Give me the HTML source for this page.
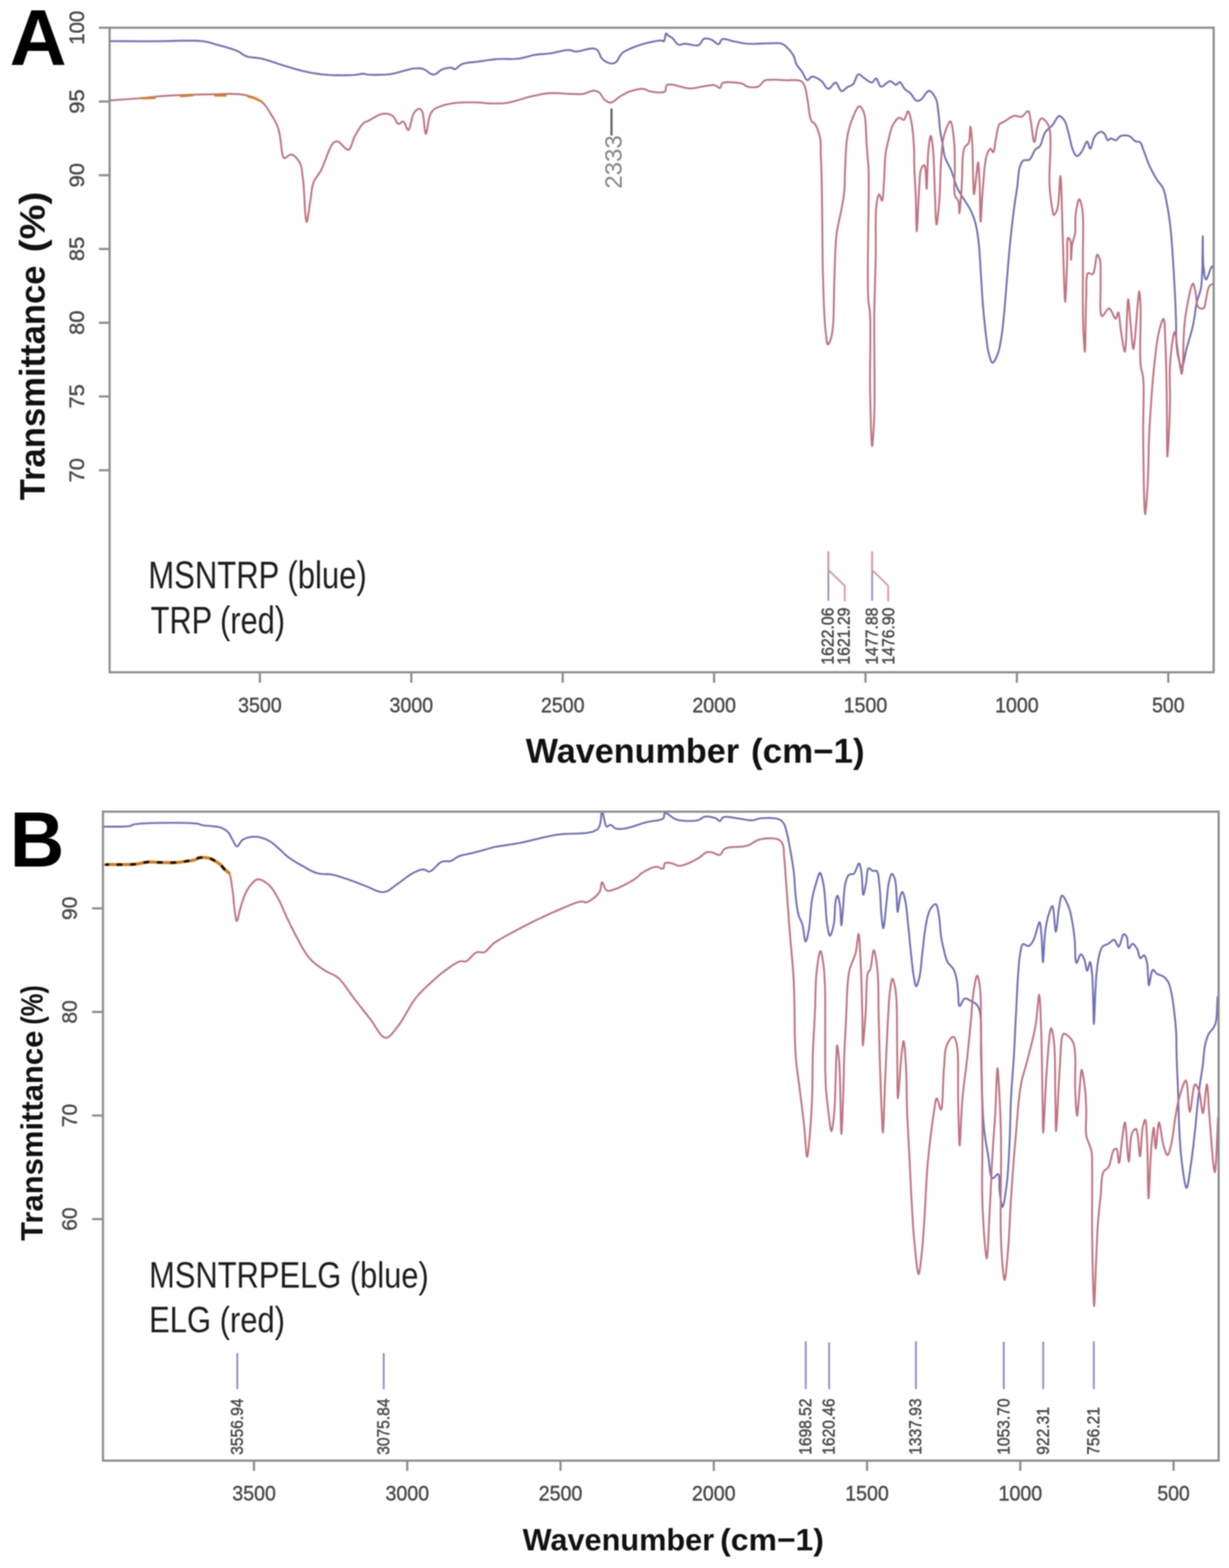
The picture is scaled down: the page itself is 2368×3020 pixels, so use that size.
<!DOCTYPE html>
<html><head><meta charset="utf-8"><title>FTIR spectra</title>
<style>html,body{margin:0;padding:0;background:#fff;overflow:hidden}svg{display:block}#wrap{filter:blur(1px)}</style>
</head><body><div id="wrap">
<svg width="2368" height="3020" viewBox="0 0 2368 3020" font-family="'Liberation Sans', Arial, Helvetica, sans-serif">
<rect width="2368" height="3020" fill="#fff"/>
<text x="18.4" y="124.5" font-size="152" font-weight="bold" fill="#000" text-anchor="start" >A</text>
<polyline points="211.7,79.3 226.4,79.3 241.1,79.4 255.8,79.4 270.5,79.5 285.2,79.5 300.0,79.5 315.5,79.3 331.8,78.9 348.0,78.4 363.6,78.2 377.9,78.4 390.0,79.3 395.9,80.2 401.0,81.2 405.6,82.4 410.1,83.8 414.7,85.2 419.6,86.6 425.9,88.3 432.5,90.1 439.3,92.0 445.9,94.0 452.1,96.1 457.6,98.3 460.9,100.0 463.8,101.8 466.4,103.7 469.0,105.5 471.8,107.1 475.0,108.5 479.3,109.7 483.9,110.4 488.8,110.9 493.9,111.4 499.1,112.0 504.5,113.0 511.7,114.9 519.3,117.2 527.2,119.8 535.2,122.6 543.2,125.2 551.0,127.6 558.4,129.8 565.8,131.9 573.2,134.0 580.6,136.0 587.8,137.8 595.0,139.3 601.4,140.5 607.6,141.5 613.8,142.4 620.0,143.2 626.4,143.8 633.0,144.3 641.2,144.7 650.1,144.9 659.2,145.0 668.0,144.9 676.1,144.7 683.0,144.3 686.4,144.0 689.5,143.5 692.4,142.9 695.0,142.4 697.6,142.1 700.0,142.0 702.4,142.3 704.4,142.8 706.6,143.3 709.3,143.7 714.6,144.0 721.4,144.1 729.1,144.1 736.8,143.9 744.1,143.5 750.3,143.0 753.6,142.6 756.5,142.0 759.3,141.4 761.9,140.8 764.7,140.0 767.8,139.3 772.3,138.1 777.2,136.7 782.4,135.3 787.5,133.9 792.4,132.7 797.0,132.0 800.2,131.7 803.2,131.5 806.1,131.4 808.9,131.6 811.8,131.9 814.7,132.6 818.1,134.1 821.6,136.3 825.1,138.9 828.5,141.3 831.9,143.0 835.2,143.7 838.2,143.1 841.1,141.5 844.0,139.3 846.8,137.0 849.7,134.9 852.7,133.4 855.7,132.4 858.9,131.6 862.1,130.9 865.1,130.5 867.9,130.3 870.3,130.5 872.4,131.5 874.1,132.8 876.0,133.4 878.0,132.7 880.2,131.2 882.6,129.1 885.1,126.9 887.9,124.8 890.8,123.2 895.0,121.9 899.5,121.0 904.4,120.4 909.6,119.9 914.8,119.4 920.0,118.8 926.0,117.9 932.2,117.0 938.6,116.0 945.0,115.2 951.5,114.4 958.0,113.8 964.8,113.5 971.7,113.5 978.7,113.6 985.7,113.7 992.5,113.5 999.0,113.0 1004.6,112.1 1010.1,110.8 1015.5,109.4 1020.8,108.0 1026.0,106.6 1031.3,105.6 1036.2,104.9 1041.1,104.4 1045.9,104.1 1050.7,103.7 1055.6,103.3 1060.6,102.7 1066.5,101.7 1072.6,100.3 1078.9,98.9 1085.0,97.6 1090.7,96.6 1095.7,96.3 1098.9,96.6 1101.7,97.3 1104.4,98.2 1107.1,98.9 1110.3,99.2 1115.2,98.7 1120.9,97.5 1126.9,96.0 1132.8,94.5 1138.2,93.5 1142.5,93.3 1145.2,93.7 1147.4,94.3 1149.4,95.3 1151.3,96.8 1152.9,98.8 1154.2,101.5 1155.5,104.5 1156.7,107.6 1158.2,110.6 1160.0,113.0 1162.2,115.0 1164.7,117.0 1167.5,118.7 1170.2,120.2 1173.0,121.3 1175.5,122.0 1178.2,122.3 1180.9,122.2 1183.5,121.5 1186.0,120.3 1188.2,118.3 1190.1,115.5 1192.0,112.1 1193.9,108.7 1196.0,105.4 1198.4,102.7 1201.0,100.6 1203.7,98.9 1206.5,97.3 1209.6,95.8 1212.7,94.4 1216.0,93.0 1220.2,91.2 1224.7,89.5 1229.4,87.8 1234.2,86.2 1239.1,84.7 1244.0,83.4 1249.5,82.1 1255.6,80.7 1261.7,79.5 1267.5,78.5 1272.3,78.0 1275.7,78.1 1277.6,79.3 1279.0,79.9 1279.9,78.4 1280.7,75.5 1281.5,71.7 1282.1,68.1 1282.8,65.2 1283.6,64.0 1284.7,65.3 1286.2,67.6 1288.0,68.8 1290.2,70.0 1292.6,71.2 1295.0,72.8 1297.0,74.8 1298.9,77.3 1300.9,80.0 1303.0,82.6 1305.1,84.7 1307.3,86.0 1309.6,86.3 1311.9,86.0 1314.3,85.3 1316.8,84.6 1319.6,84.3 1323.6,84.6 1328.2,85.5 1333.1,86.5 1337.9,87.3 1342.3,87.6 1346.0,86.9 1348.2,85.4 1350.0,83.2 1351.5,80.6 1353.0,78.1 1354.6,76.0 1356.5,74.6 1359.1,74.0 1361.9,74.1 1364.8,74.6 1367.7,75.4 1370.5,76.3 1373.0,77.6 1375.5,79.5 1378.0,81.6 1380.4,83.5 1382.6,84.8 1384.6,85.1 1386.5,83.6 1387.9,80.6 1389.4,77.5 1391.6,75.5 1394.6,75.0 1398.2,75.4 1402.3,76.4 1406.6,77.7 1410.9,78.9 1415.1,79.9 1419.3,80.7 1423.5,81.6 1427.8,82.4 1432.1,83.2 1436.7,83.8 1441.5,84.3 1448.3,84.5 1455.9,84.4 1463.7,84.1 1471.5,83.8 1478.9,83.5 1485.4,83.4 1489.4,83.3 1493.3,83.2 1496.9,83.1 1500.3,83.1 1503.5,83.5 1506.5,84.3 1508.9,85.4 1511.1,86.8 1513.1,88.4 1515.1,90.1 1516.9,92.0 1518.8,93.9 1520.8,96.0 1522.7,98.2 1524.5,100.6 1526.3,103.0 1527.9,105.5 1529.3,108.0 1530.4,110.5 1531.2,113.2 1531.9,115.9 1532.7,118.6 1533.5,121.3 1534.6,123.8 1536.1,126.2 1537.7,128.6 1539.6,130.8 1541.4,133.1 1543.3,135.4 1545.1,137.8 1546.9,140.8 1548.6,144.3 1550.4,147.9 1552.1,151.1 1553.9,153.4 1555.7,154.5 1557.7,153.7 1559.8,151.3 1561.9,148.9 1564.4,147.5 1567.0,147.6 1569.9,148.4 1573.0,149.8 1576.2,151.5 1579.2,153.5 1582.0,155.4 1584.6,157.9 1587.0,161.2 1589.2,164.7 1591.4,167.9 1593.7,170.2 1596.0,171.2 1598.3,170.4 1600.7,168.0 1603.1,165.0 1605.5,161.9 1607.8,159.7 1610.0,158.9 1612.1,160.3 1614.0,163.3 1615.8,167.2 1617.6,171.0 1619.5,174.1 1621.5,175.6 1623.7,175.2 1626.0,173.8 1628.3,171.6 1630.7,169.5 1633.0,167.7 1635.7,166.4 1638.4,165.4 1641.0,164.2 1643.5,162.4 1645.5,159.6 1647.2,155.8 1648.8,151.6 1650.4,147.7 1652.1,144.6 1654.0,143.1 1655.9,143.3 1658.0,144.5 1660.1,146.4 1662.3,148.4 1664.6,150.1 1667.1,151.8 1669.7,153.8 1672.5,155.8 1675.2,157.6 1677.7,158.7 1680.0,159.0 1682.3,157.5 1684.2,154.8 1686.0,152.1 1687.9,151.1 1689.5,152.3 1690.9,155.1 1692.4,158.8 1693.9,162.4 1695.6,165.4 1697.6,166.9 1700.1,166.5 1703.0,164.6 1706.1,162.0 1709.3,159.3 1712.3,157.2 1715.1,156.3 1717.6,157.1 1720.0,158.9 1722.3,161.0 1724.4,162.7 1726.5,163.4 1729.0,161.9 1731.3,159.3 1733.6,158.1 1735.2,159.0 1736.7,160.9 1738.3,163.5 1739.8,166.4 1741.5,169.1 1743.2,171.3 1745.2,173.1 1747.3,174.5 1749.5,175.9 1751.7,177.4 1753.8,179.2 1755.9,181.6 1757.9,184.5 1759.9,187.7 1761.9,190.5 1763.9,192.8 1766.0,194.1 1768.2,194.3 1770.4,193.9 1772.6,192.8 1774.9,191.5 1777.3,189.2 1779.8,185.8 1782.3,182.0 1784.9,178.5 1787.4,175.8 1789.8,174.8 1792.1,175.5 1794.6,177.3 1797.0,179.9 1799.2,183.1 1801.3,186.4 1803.0,189.7 1804.6,193.7 1805.7,198.1 1806.4,202.8 1807.0,207.8 1807.6,212.8 1808.2,217.8 1808.9,223.5 1809.5,229.5 1810.0,235.5 1810.5,241.6 1811.0,247.5 1811.7,253.0 1812.4,257.3 1813.1,261.5 1813.8,265.5 1814.6,269.5 1815.4,273.5 1816.1,277.5 1816.8,281.6 1817.3,285.7 1817.9,289.8 1818.5,293.9 1819.4,298.0 1820.5,302.1 1822.1,306.5 1824.1,310.8 1826.2,315.0 1828.5,319.4 1830.7,323.8 1832.8,328.5 1834.9,334.2 1836.9,340.3 1838.9,346.5 1840.9,352.7 1842.9,358.4 1845.1,363.6 1846.8,366.9 1848.5,369.9 1850.2,372.7 1851.9,375.4 1853.7,378.2 1855.6,381.2 1857.9,384.8 1860.3,388.6 1862.8,392.4 1865.3,396.3 1867.6,400.2 1869.7,404.0 1871.4,407.5 1872.9,411.0 1874.3,414.4 1875.6,417.9 1876.9,421.4 1878.0,425.0 1879.0,428.6 1880.0,432.2 1880.8,435.8 1881.6,439.5 1882.3,443.3 1883.0,447.3 1883.8,452.1 1884.4,457.0 1885.0,462.0 1885.6,467.2 1886.2,472.7 1886.7,478.5 1887.4,486.8 1888.0,495.7 1888.6,505.1 1889.1,514.7 1889.7,524.2 1890.3,533.6 1890.9,542.8 1891.5,552.0 1892.0,561.2 1892.6,570.3 1893.3,579.5 1894.0,588.7 1894.8,598.0 1895.7,607.5 1896.6,616.9 1897.5,626.2 1898.5,635.2 1899.5,643.7 1900.3,650.4 1901.1,657.0 1901.9,663.4 1902.7,669.5 1903.8,675.2 1905.0,680.5 1906.0,684.4 1907.2,688.4 1908.4,692.3 1909.6,695.6 1911.0,697.9 1912.4,698.8 1913.8,698.2 1915.4,696.4 1917.1,693.8 1918.7,690.7 1920.2,687.3 1921.6,684.1 1923.2,679.7 1924.6,674.9 1925.8,669.7 1926.9,664.3 1927.9,658.6 1928.9,652.9 1930.0,645.8 1931.0,638.4 1931.9,630.8 1932.8,623.0 1933.6,615.0 1934.4,607.0 1935.3,598.1 1936.0,589.0 1936.8,579.8 1937.5,570.5 1938.3,561.2 1939.0,552.0 1939.8,542.8 1940.5,533.6 1941.3,524.5 1942.0,515.3 1942.8,506.1 1943.6,496.9 1944.4,487.7 1945.3,478.3 1946.2,469.0 1947.1,459.8 1948.0,450.7 1949.0,441.8 1949.9,433.8 1950.8,426.0 1951.7,418.3 1952.7,410.7 1953.6,403.2 1954.6,395.9 1955.5,389.5 1956.4,383.3 1957.4,377.3 1958.3,371.3 1959.2,365.3 1960.1,359.2 1960.8,353.0 1961.4,346.5 1961.9,340.1 1962.6,333.9 1963.4,328.2 1964.6,323.2 1965.5,320.3 1966.4,317.5 1967.5,314.9 1968.6,312.6 1970.0,310.7 1971.6,309.2 1974.2,308.4 1977.3,308.4 1980.5,308.5 1983.4,307.6 1985.7,305.3 1987.7,302.0 1989.5,298.1 1991.3,294.1 1993.2,290.5 1995.1,287.7 1997.2,286.0 1999.3,284.9 2001.3,283.7 2003.3,281.9 2005.2,278.5 2006.9,274.1 2008.4,269.1 2010.0,263.9 2011.8,259.0 2013.9,254.9 2016.0,252.2 2018.3,249.8 2020.7,247.6 2023.2,245.5 2025.6,243.3 2027.9,240.9 2030.2,237.8 2032.3,234.1 2034.5,230.3 2036.6,226.9 2038.7,224.4 2040.8,223.3 2043.0,223.7 2045.2,225.2 2047.4,227.4 2049.5,230.0 2051.3,232.7 2052.9,235.7 2054.2,239.1 2055.3,242.8 2056.3,246.7 2057.3,250.8 2058.4,254.9 2059.9,260.5 2061.3,266.8 2062.8,273.4 2064.3,279.7 2065.9,285.4 2067.7,290.1 2069.0,293.0 2070.3,295.8 2071.7,298.1 2073.2,299.8 2074.8,300.6 2076.5,300.2 2078.4,298.9 2080.4,297.0 2082.3,294.7 2084.1,292.4 2086.0,289.2 2087.9,285.0 2089.8,280.5 2091.5,276.5 2093.2,273.6 2094.7,272.5 2095.8,273.6 2096.8,276.2 2097.7,279.6 2098.6,283.0 2099.5,285.6 2100.5,286.6 2101.9,285.2 2103.2,281.5 2104.6,276.4 2106.1,270.9 2107.9,265.8 2109.9,262.0 2112.0,259.6 2114.4,257.3 2116.9,255.5 2119.4,254.3 2121.6,253.8 2124.1,254.5 2126.5,256.3 2128.6,258.5 2129.9,260.7 2131.1,263.6 2132.1,266.6 2133.2,269.0 2134.5,270.2 2136.3,269.5 2138.2,267.7 2140.3,266.6 2142.5,267.1 2144.9,268.5 2147.4,269.8 2149.7,270.2 2151.6,269.3 2153.3,267.5 2155.1,265.3 2156.9,263.4 2159.1,262.0 2161.5,261.3 2164.3,260.9 2167.2,260.7 2170.1,260.9 2172.9,261.3 2175.5,262.0 2177.9,263.3 2180.1,265.1 2182.2,267.2 2184.3,269.4 2186.3,271.2 2188.3,272.5 2191.2,273.0 2194.0,272.9 2196.5,273.7 2198.0,275.4 2199.3,277.7 2200.3,280.5 2201.4,283.6 2202.4,286.9 2203.6,290.1 2205.4,294.7 2207.2,299.7 2209.1,304.9 2211.1,310.3 2213.1,315.5 2215.3,320.5 2217.5,325.0 2219.8,329.6 2222.1,334.0 2224.5,338.3 2226.9,342.4 2229.3,346.3 2231.3,349.2 2233.4,351.9 2235.5,354.4 2237.5,356.9 2239.4,359.6 2241.0,362.7 2242.6,366.8 2243.9,371.1 2245.1,375.7 2246.0,380.5 2247.0,385.6 2248.0,390.8 2249.3,397.8 2250.6,405.3 2251.9,413.1 2253.0,421.1 2254.1,429.3 2255.1,437.6 2256.1,446.9 2256.9,456.2 2257.7,465.8 2258.4,475.6 2259.1,485.7 2259.8,496.2 2260.7,509.7 2261.6,524.4 2262.4,539.5 2263.2,554.3 2263.9,568.0 2264.5,580.0 2264.8,586.4 2265.0,592.1 2265.2,597.3 2265.4,602.5 2265.6,608.0 2265.8,614.1 2266.0,623.8 2266.1,634.6 2266.3,646.0 2266.6,657.3 2267.2,667.9 2268.3,677.3 2269.4,683.7 2270.8,690.5 2272.4,697.0 2274.0,702.5 2275.6,706.2 2277.1,707.6 2278.6,705.8 2280.0,701.2 2281.5,694.6 2282.9,686.9 2284.4,679.2 2286.0,672.2 2288.0,665.0 2290.2,657.5 2292.4,649.9 2294.7,642.2 2296.8,634.5 2298.6,626.8 2300.1,619.1 2301.4,611.2 2302.5,603.2 2303.6,595.5 2304.8,588.1 2306.2,581.3 2307.4,576.7 2308.8,572.4 2310.2,568.4 2311.5,564.4 2312.7,560.4 2313.7,556.1 2314.5,551.4 2315.0,546.7 2315.4,542.0 2315.7,537.0 2316.0,531.6 2316.3,525.8 2316.7,514.1 2316.9,499.2 2317.1,483.4 2317.2,469.2 2317.3,458.9 2317.5,455.0 2317.6,458.2 2317.6,466.7 2317.7,478.3 2317.8,491.2 2318.1,503.5 2318.8,513.1 2319.4,518.5 2320.0,524.1 2320.7,529.5 2321.6,534.0 2322.6,537.1 2323.8,538.4 2325.4,536.7 2327.3,532.1 2329.5,526.1 2331.6,520.0 2333.6,515.2 2335.2,513.1 2336.6,514.0 2338.0,515.7" fill="none" stroke="#7070b6" stroke-width="3.6" stroke-linejoin="round" stroke-linecap="round" />
<polyline points="211.7,193.4 222.0,192.7 232.5,192.0 243.0,191.2 253.3,190.5 263.4,189.8 273.0,189.0 280.6,188.3 287.6,187.5 294.5,186.8 301.5,186.0 308.9,185.3 317.0,184.7 330.1,183.9 344.5,183.3 359.9,182.7 375.4,182.2 390.7,181.9 405.0,181.7 417.0,181.5 429.0,181.1 440.7,180.9 451.9,181.0 462.4,181.6 472.0,183.0 478.4,184.5 484.3,186.2 490.0,188.2 495.2,190.6 500.0,193.3 504.5,196.4 508.1,199.6 511.3,203.3 514.2,207.2 516.9,211.3 519.4,215.5 522.0,219.8 524.7,224.3 527.4,228.8 530.0,233.5 532.4,238.3 534.6,243.5 536.6,249.0 538.7,257.6 540.2,267.8 541.5,278.5 542.7,288.5 543.9,296.6 545.4,301.8 546.7,303.9 548.4,304.7 550.4,304.0 552.9,302.1 555.8,299.8 558.7,298.0 561.5,297.4 564.3,298.4 567.2,300.4 570.2,303.2 573.0,306.5 575.5,310.0 577.6,313.5 579.4,317.5 580.6,321.8 581.5,326.4 582.1,331.4 582.7,336.8 583.5,342.7 584.9,356.2 586.1,374.0 587.1,392.9 588.2,410.2 589.4,422.7 590.8,427.6 591.9,425.5 593.1,419.9 594.3,412.1 595.6,403.1 596.8,394.2 598.0,386.6 598.9,380.5 599.6,374.4 600.3,368.3 601.2,362.4 602.4,356.8 604.0,351.5 605.9,347.3 608.2,343.5 610.7,340.0 613.3,336.4 616.0,332.5 618.6,328.0 622.4,319.8 626.3,309.7 630.3,299.0 634.3,289.0 638.2,280.7 642.0,275.4 644.2,273.7 646.3,272.7 648.4,272.3 650.8,272.5 653.9,274.1 657.4,277.4 661.2,281.4 664.9,285.2 668.3,287.9 671.3,288.6 673.8,286.9 675.8,283.4 677.5,278.8 679.1,273.5 680.9,268.3 683.0,263.7 685.6,259.0 688.4,254.0 691.3,249.1 694.2,244.4 697.2,240.4 700.0,237.4 702.2,235.8 704.4,234.9 706.6,234.1 709.3,233.0 713.1,230.9 717.6,228.2 722.5,225.3 727.5,222.6 732.4,220.4 737.0,219.2 740.4,218.9 743.8,219.0 747.1,219.4 750.3,220.2 753.3,221.3 756.0,222.7 758.4,225.0 760.5,228.1 762.3,231.6 764.1,235.0 765.9,237.5 767.8,238.8 770.0,238.2 772.3,236.3 774.5,234.4 776.6,233.8 778.5,235.4 780.3,238.6 782.0,242.7 783.6,246.6 785.2,249.5 786.8,250.5 788.6,248.4 790.2,243.5 791.7,236.8 793.3,229.7 795.0,223.1 797.1,218.3 799.0,215.7 801.1,213.3 803.3,211.4 805.4,210.0 807.3,209.5 809.4,210.0 811.4,211.6 813.2,214.0 815.0,219.6 816.3,228.4 817.3,238.4 818.3,247.9 819.3,255.0 820.5,257.8 821.8,255.6 823.0,249.8 824.3,242.0 825.7,233.4 827.4,225.5 829.3,219.8 830.7,217.1 832.2,214.9 833.7,213.0 835.6,211.2 838.0,209.5 842.0,207.3 846.9,205.3 852.4,203.4 858.3,201.8 864.3,200.5 870.3,199.3 877.2,198.3 884.6,197.7 892.1,197.3 899.7,197.2 907.1,197.2 914.2,197.2 920.3,197.4 926.3,197.8 932.2,198.3 938.0,198.8 943.7,199.1 949.3,199.3 954.3,199.3 959.0,199.3 963.7,199.2 968.5,199.0 973.4,198.5 978.6,197.8 985.9,196.3 993.7,194.3 1001.7,191.9 1009.9,189.4 1017.8,187.1 1025.4,185.2 1031.5,183.9 1037.4,182.7 1043.1,181.6 1048.9,180.6 1054.7,179.9 1060.6,179.4 1067.1,179.2 1073.9,179.4 1080.8,179.8 1087.6,180.2 1094.0,180.7 1100.0,180.9 1104.2,181.0 1108.1,181.2 1111.9,181.4 1115.5,181.4 1119.1,181.3 1122.8,180.9 1126.5,180.1 1130.2,178.8 1133.9,177.4 1137.5,176.0 1140.9,175.0 1144.0,174.7 1146.9,175.0 1149.6,175.6 1152.1,176.7 1154.5,178.2 1156.4,180.0 1158.1,182.4 1159.7,185.1 1161.3,187.8 1163.1,190.3 1165.0,192.3 1167.3,194.0 1169.7,195.5 1172.2,196.7 1174.7,197.4 1177.3,197.5 1179.8,196.8 1182.4,195.3 1184.9,193.3 1187.6,191.1 1190.2,188.9 1193.0,187.0 1196.0,185.1 1199.1,183.2 1202.2,181.4 1205.5,179.6 1208.9,177.9 1212.4,176.5 1216.9,175.0 1221.8,173.7 1226.9,172.5 1231.9,171.6 1236.6,171.1 1240.5,171.2 1243.4,171.9 1245.7,173.2 1248.1,174.6 1251.0,175.6 1255.4,176.5 1260.9,177.4 1266.9,178.0 1272.6,178.3 1277.6,177.8 1281.0,176.5 1282.3,174.5 1282.8,171.8 1283.0,168.8 1283.3,166.1 1284.4,164.2 1286.3,163.2 1288.6,162.9 1291.3,162.8 1294.1,163.0 1296.7,163.3 1299.4,163.7 1302.2,164.4 1305.0,165.2 1307.8,166.1 1310.8,166.8 1313.8,167.5 1316.8,168.3 1319.9,169.0 1323.1,169.6 1326.5,170.1 1330.0,170.3 1335.2,170.0 1341.0,169.2 1347.1,168.0 1353.0,166.8 1358.6,165.7 1363.5,165.0 1366.7,164.6 1369.7,164.2 1372.4,163.9 1375.0,163.9 1377.5,164.2 1380.2,165.5 1382.7,167.4 1385.0,169.0 1387.0,169.4 1388.4,167.9 1389.4,165.2 1390.5,162.2 1392.3,160.0 1395.1,158.9 1398.7,158.4 1402.8,158.2 1407.1,158.4 1411.3,158.6 1415.1,158.9 1418.0,159.1 1420.8,159.4 1423.6,159.7 1426.2,160.2 1428.7,160.8 1431.0,161.5 1433.3,162.7 1435.3,164.2 1437.3,165.7 1439.7,166.8 1442.7,167.5 1446.3,168.0 1450.1,168.2 1454.0,168.1 1457.6,167.7 1460.8,166.8 1463.2,165.4 1465.2,163.4 1467.1,161.1 1469.0,158.9 1470.9,156.8 1473.0,155.4 1475.3,154.5 1477.6,154.0 1480.0,153.8 1482.6,153.7 1485.4,153.6 1489.4,153.5 1493.9,153.5 1498.7,153.7 1503.6,154.0 1508.6,154.3 1513.5,154.5 1518.7,154.6 1524.3,154.4 1529.8,154.3 1535.1,154.4 1539.7,155.0 1543.4,156.3 1545.9,158.1 1547.6,160.3 1549.1,162.9 1550.4,165.9 1551.6,169.2 1552.6,173.0 1553.5,177.1 1554.2,181.5 1554.9,186.0 1555.7,190.5 1556.6,196.3 1557.5,202.6 1558.3,209.2 1559.1,215.5 1560.0,221.2 1561.0,225.7 1561.7,228.4 1562.5,230.7 1563.3,232.7 1564.4,234.4 1566.0,235.6 1567.9,236.5 1569.7,238.0 1571.6,241.0 1573.6,245.1 1575.6,250.0 1577.4,255.4 1579.0,260.8 1580.2,266.0 1581.0,271.4 1581.4,276.9 1581.5,282.6 1581.4,288.3 1581.4,294.1 1581.5,300.0 1581.8,306.4 1582.0,312.8 1582.3,319.3 1582.5,325.9 1582.8,332.8 1583.0,340.0 1583.2,349.1 1583.4,358.3 1583.6,368.0 1583.7,378.0 1583.8,388.7 1584.0,400.0 1584.2,417.9 1584.4,437.8 1584.6,458.8 1584.8,480.1 1585.0,500.8 1585.4,520.0 1585.8,535.1 1586.2,550.0 1586.6,564.5 1587.1,578.4 1587.6,591.3 1588.2,603.0 1588.6,610.1 1589.0,616.7 1589.4,623.0 1589.9,628.8 1590.4,634.5 1591.0,640.0 1591.5,644.8 1592.0,649.9 1592.6,654.9 1593.3,659.3 1594.1,662.3 1595.0,663.6 1596.2,662.9 1597.5,660.8 1598.8,658.0 1600.0,655.0 1601.0,651.9 1601.9,648.4 1602.7,644.6 1603.4,640.3 1604.1,635.7 1604.7,630.6 1605.6,619.6 1606.2,606.6 1606.5,592.2 1606.8,577.1 1607.0,562.2 1607.4,548.0 1607.8,534.5 1608.2,520.6 1608.6,506.8 1609.1,493.5 1609.6,481.4 1610.2,470.8 1610.6,465.5 1610.9,460.8 1611.3,456.5 1611.8,452.3 1612.3,448.0 1613.0,443.3 1614.1,437.2 1615.4,430.8 1616.8,424.3 1618.3,417.7 1619.7,411.1 1621.0,404.7 1622.1,398.7 1623.2,392.9 1624.2,387.1 1625.2,381.2 1626.0,375.2 1626.7,368.9 1627.3,361.3 1627.6,353.4 1627.8,345.2 1627.9,336.9 1628.1,328.5 1628.5,320.0 1629.0,310.3 1629.4,300.1 1630.0,289.7 1630.7,279.5 1631.6,269.8 1633.0,260.8 1634.3,254.3 1635.9,248.0 1637.6,242.0 1639.4,236.3 1641.4,230.8 1643.5,225.7 1645.4,221.3 1647.4,216.6 1649.5,212.2 1651.7,208.3 1653.8,205.7 1655.8,204.6 1657.4,205.0 1658.9,206.4 1660.5,208.4 1662.0,211.0 1663.4,213.9 1664.6,216.9 1666.5,224.7 1667.7,234.9 1668.4,246.5 1668.9,258.3 1669.3,269.3 1669.8,278.3 1670.1,282.5 1670.4,286.3 1670.7,289.7 1671.0,293.0 1671.2,296.4 1671.5,300.0 1671.9,304.1 1672.2,307.9 1672.6,311.8 1673.0,316.2 1673.3,321.3 1673.6,327.5 1673.9,357.3 1673.5,401.0 1672.8,451.5 1672.2,502.0 1672.1,545.7 1672.8,575.5 1673.3,581.4 1673.9,585.9 1674.6,589.6 1675.2,593.2 1675.8,597.4 1676.3,603.0 1676.9,621.5 1677.0,645.5 1676.8,672.9 1676.5,701.5 1676.3,729.5 1676.5,754.5 1676.9,775.5 1677.5,798.6 1678.1,821.1 1678.8,840.5 1679.6,854.1 1680.4,859.2 1681.1,856.4 1681.8,848.8 1682.6,837.6 1683.4,824.2 1684.1,809.9 1684.6,795.9 1685.1,769.2 1685.1,737.4 1684.9,702.7 1684.6,667.2 1684.5,633.3 1684.6,603.0 1684.9,582.8 1685.4,563.8 1685.9,545.6 1686.4,528.0 1686.9,510.5 1687.3,492.8 1687.4,475.1 1687.4,456.4 1687.2,438.0 1687.3,420.7 1687.8,405.5 1688.8,393.5 1689.5,388.9 1690.3,384.5 1691.1,380.5 1692.1,377.3 1693.0,375.1 1694.0,374.2 1695.0,375.5 1696.2,378.5 1697.3,382.2 1698.4,385.3 1699.3,386.5 1700.2,385.1 1700.9,381.6 1701.4,376.5 1701.9,370.6 1702.3,364.3 1702.8,358.4 1703.4,349.2 1703.9,338.7 1704.3,327.5 1704.8,316.4 1705.4,305.9 1706.3,296.9 1707.0,291.9 1707.8,287.3 1708.6,283.1 1709.5,279.0 1710.5,274.8 1711.6,270.5 1712.8,265.5 1714.0,260.2 1715.3,254.9 1716.8,249.7 1718.4,244.9 1720.4,240.7 1722.2,237.6 1724.2,234.5 1726.3,231.7 1728.4,229.3 1730.6,227.5 1732.7,226.6 1735.0,227.2 1737.3,228.9 1739.5,230.6 1741.5,231.0 1743.1,229.3 1744.6,226.1 1745.9,222.2 1747.1,218.3 1748.2,215.4 1749.4,214.3 1750.5,215.1 1751.6,217.3 1752.7,220.4 1753.7,224.1 1754.6,228.0 1755.5,231.9 1756.8,238.4 1757.8,246.0 1758.8,254.2 1759.6,262.7 1760.2,271.2 1760.8,279.3 1761.2,286.7 1761.4,293.9 1761.4,301.1 1761.4,308.3 1761.5,315.7 1761.7,323.2 1762.0,331.6 1762.5,340.1 1762.9,348.8 1763.4,357.6 1763.9,366.6 1764.3,375.9 1764.7,388.5 1765.0,403.5 1765.3,418.8 1765.6,432.2 1765.9,441.8 1766.4,445.5 1767.0,440.6 1767.8,427.9 1768.6,410.3 1769.5,390.8 1770.4,372.6 1771.3,358.4 1771.8,351.6 1772.1,345.1 1772.4,339.1 1772.9,333.6 1773.7,328.9 1774.9,325.0 1776.3,322.3 1777.9,320.0 1779.6,318.4 1781.0,318.0 1782.5,321.8 1783.5,330.3 1784.2,341.2 1784.6,352.0 1785.0,360.3 1785.4,363.6 1785.8,361.5 1786.1,356.0 1786.4,348.3 1786.6,339.4 1786.8,330.7 1787.1,323.2 1787.3,317.1 1787.6,311.1 1787.8,305.2 1788.0,299.3 1788.4,293.6 1788.9,288.1 1789.5,282.9 1790.2,277.1 1790.9,271.4 1791.7,266.4 1792.5,263.0 1793.3,261.7 1794.1,262.9 1794.8,266.1 1795.6,270.7 1796.4,276.3 1797.1,282.3 1797.7,288.1 1798.6,298.9 1799.2,311.6 1799.8,325.4 1800.2,339.7 1800.7,353.9 1801.2,367.1 1801.7,379.9 1802.2,394.2 1802.6,408.4 1803.1,420.7 1803.8,429.3 1804.5,432.6 1805.3,430.3 1806.2,424.2 1807.2,415.4 1808.3,405.1 1809.2,394.5 1810.0,384.7 1810.8,372.4 1811.3,358.9 1811.7,344.9 1812.2,331.0 1812.7,317.7 1813.5,305.6 1814.1,297.4 1814.7,289.6 1815.4,282.1 1816.2,275.0 1817.3,268.2 1818.8,261.7 1820.5,255.9 1822.6,249.6 1824.9,243.5 1827.2,238.4 1829.3,234.8 1831.1,233.6 1832.7,235.5 1834.1,240.4 1835.4,247.2 1836.4,255.0 1837.3,263.1 1838.1,270.5 1838.8,278.7 1839.3,287.3 1839.5,296.2 1839.6,305.3 1839.7,314.3 1839.8,323.2 1839.7,332.4 1839.3,342.2 1838.8,351.9 1838.5,361.2 1838.8,369.3 1839.8,375.9 1841.0,378.9 1842.5,381.3 1844.2,383.4 1845.7,385.6 1846.9,388.2 1847.6,392.0 1848.0,396.8 1848.1,401.7 1848.1,406.2 1848.2,409.4 1848.4,410.6 1849.0,408.0 1849.8,401.1 1850.7,391.3 1851.5,380.0 1852.3,368.6 1853.0,358.4 1853.5,347.9 1853.9,336.7 1854.1,325.2 1854.4,314.4 1854.9,304.7 1855.7,296.9 1856.2,293.3 1856.7,290.2 1857.3,287.5 1858.1,285.1 1859.2,282.8 1860.8,280.9 1862.7,279.5 1864.6,278.0 1866.2,275.8 1867.5,271.2 1868.2,264.7 1868.7,257.6 1869.0,251.0 1869.3,246.1 1869.7,244.2 1870.3,245.7 1870.9,249.6 1871.6,255.3 1872.2,262.1 1872.7,269.1 1873.2,275.8 1873.7,285.5 1874.1,296.5 1874.3,308.2 1874.5,319.9 1874.7,330.9 1875.0,340.8 1875.2,347.8 1875.5,355.2 1875.7,362.4 1875.9,368.4 1876.3,372.6 1876.7,374.2 1877.2,372.9 1877.7,369.5 1878.3,364.5 1878.9,358.8 1879.6,353.0 1880.2,347.8 1880.9,341.4 1881.7,333.9 1882.5,326.2 1883.2,319.4 1884.0,314.5 1884.6,312.7 1885.2,314.4 1885.7,319.0 1886.1,325.7 1886.5,333.6 1886.9,341.8 1887.3,349.6 1887.8,362.7 1888.1,379.1 1888.4,396.2 1888.7,411.7 1889.0,422.8 1889.5,427.1 1890.0,424.1 1890.5,416.1 1891.1,404.8 1891.8,391.8 1892.5,378.7 1893.4,367.1 1894.4,355.3 1895.4,342.5 1896.4,329.6 1897.7,317.4 1899.3,306.8 1901.3,298.6 1902.6,295.0 1904.0,291.7 1905.5,288.9 1907.0,287.0 1908.4,286.3 1910.2,288.2 1912.0,291.7 1913.6,293.4 1914.7,291.9 1915.7,288.3 1916.5,283.3 1917.2,277.7 1918.0,272.0 1918.9,267.0 1919.9,262.0 1920.8,256.6 1921.8,251.2 1922.9,246.2 1924.2,242.0 1925.9,238.9 1928.0,237.3 1930.3,236.5 1933.0,235.4 1935.9,233.6 1939.3,231.3 1943.0,228.7 1946.8,226.3 1950.5,224.3 1954.0,223.1 1957.0,223.0 1959.9,223.7 1962.7,224.5 1965.4,225.1 1968.1,224.9 1970.5,223.5 1972.9,221.2 1975.3,218.6 1977.5,216.1 1979.4,214.4 1981.1,214.0 1982.4,215.1 1983.3,217.4 1984.0,220.4 1984.6,224.0 1985.1,227.8 1985.8,231.5 1987.0,238.4 1988.1,247.3 1989.3,256.7 1990.4,265.2 1991.6,271.3 1992.8,273.7 1993.9,271.9 1994.9,267.1 1996.0,260.4 1997.1,253.1 1998.4,246.2 1999.8,240.9 2001.0,237.5 2002.3,234.1 2003.6,231.1 2005.1,229.0 2006.8,228.0 2008.9,228.4 2011.3,229.9 2014.0,232.3 2016.6,235.4 2018.9,239.1 2020.9,243.2 2023.6,256.2 2024.2,274.4 2023.7,295.5 2022.7,317.6 2021.9,338.3 2022.1,355.6 2022.8,365.4 2023.7,374.9 2024.7,383.9 2025.8,392.0 2026.9,399.1 2027.9,404.8 2028.5,408.1 2029.0,411.2 2029.6,413.4 2030.5,414.3 2031.6,413.7 2033.1,411.9 2034.6,409.2 2036.0,406.0 2037.3,402.5 2039.0,393.5 2040.2,380.6 2041.1,366.2 2041.8,352.9 2042.4,343.1 2043.1,339.3 2044.1,345.5 2045.0,361.9 2045.7,385.0 2046.4,411.5 2047.1,437.9 2047.8,461.0 2048.6,483.9 2049.3,510.1 2050.1,536.2 2050.9,559.0 2051.6,575.2 2052.4,581.3 2053.0,576.9 2053.7,565.4 2054.4,549.4 2055.0,531.5 2055.7,514.3 2056.2,500.5 2056.4,491.7 2056.4,482.4 2056.3,473.5 2056.4,465.9 2056.9,460.4 2058.0,458.0 2060.0,459.0 2062.0,462.0 2063.0,467.0 2063.5,474.7 2063.6,483.5 2063.5,491.9 2063.5,498.1 2063.7,500.5 2064.0,498.9 2064.2,494.6 2064.5,488.6 2064.9,481.9 2065.3,475.4 2066.0,470.0 2066.7,466.5 2067.7,463.2 2068.7,460.1 2069.7,457.0 2070.6,453.6 2071.3,450.0 2071.8,444.6 2071.9,438.7 2071.9,432.6 2071.8,426.3 2071.9,420.1 2072.4,414.2 2073.2,408.3 2074.3,401.6 2075.5,395.0 2076.8,389.3 2078.1,385.3 2079.4,383.7 2080.4,384.4 2081.5,386.6 2082.5,389.7 2083.6,393.7 2084.5,398.0 2085.3,402.5 2086.5,414.5 2087.0,429.7 2087.0,447.2 2086.8,465.9 2086.5,484.9 2086.5,503.2 2086.6,523.7 2086.5,545.5 2086.4,567.6 2086.4,589.2 2086.6,609.2 2087.0,626.8 2087.4,637.7 2088.0,649.0 2088.6,659.8 2089.2,668.8 2089.8,675.0 2090.3,677.3 2090.8,671.7 2091.2,657.3 2091.5,637.2 2091.8,614.9 2092.2,593.5 2092.8,576.3 2093.1,566.0 2093.1,555.2 2093.1,545.0 2093.5,536.1 2094.6,529.4 2096.6,525.8 2098.6,525.7 2100.9,527.0 2103.3,528.3 2105.4,528.3 2107.6,524.5 2109.2,517.2 2110.5,508.4 2111.7,499.7 2112.8,493.1 2114.2,490.4 2115.5,491.2 2116.9,493.6 2118.2,496.9 2119.3,500.5 2120.2,506.0 2120.6,512.9 2120.6,520.7 2120.6,529.0 2120.5,537.6 2120.6,546.0 2120.6,557.2 2120.3,570.5 2120.0,584.0 2120.2,596.1 2121.1,605.1 2123.1,609.1 2124.9,608.4 2127.1,605.6 2129.6,601.8 2132.2,598.0 2134.7,595.1 2137.0,594.0 2139.3,595.7 2141.6,599.5 2143.9,604.3 2146.0,609.1 2147.9,612.7 2149.6,614.1 2150.9,612.7 2151.9,609.5 2152.9,605.8 2153.8,602.7 2154.6,601.5 2155.6,603.4 2156.5,608.1 2157.3,614.7 2158.0,622.4 2158.8,630.1 2159.7,636.9 2160.9,644.4 2162.2,653.2 2163.5,662.0 2164.9,669.8 2166.2,675.3 2167.3,677.3 2168.7,669.8 2169.9,651.0 2170.8,626.7 2171.7,602.5 2172.6,583.8 2173.6,576.3 2174.4,578.9 2175.2,585.7 2176.0,595.4 2176.9,606.4 2177.7,617.4 2178.6,626.8 2179.4,635.6 2180.2,645.5 2181.1,655.3 2181.9,663.9 2182.8,669.9 2183.7,672.2 2185.1,666.8 2186.7,652.9 2188.3,634.0 2189.9,613.5 2191.3,594.8 2192.5,581.3 2193.0,576.6 2193.4,572.0 2193.8,567.8 2194.2,564.3 2194.6,562.0 2195.0,561.1 2195.5,562.3 2196.0,565.6 2196.4,570.3 2196.9,576.2 2197.3,582.5 2197.6,588.9 2197.8,604.3 2197.6,624.1 2197.1,646.0 2196.8,667.9 2196.9,687.4 2197.6,702.5 2198.3,707.6 2199.1,711.6 2200.1,715.2 2201.1,718.7 2201.9,722.7 2202.6,727.8 2203.4,741.8 2203.5,759.0 2203.3,778.5 2202.9,799.4 2202.6,820.6 2202.6,841.4 2202.9,868.5 2203.4,900.6 2203.9,933.2 2204.6,962.0 2205.4,982.6 2206.4,990.4 2207.2,987.5 2208.0,979.6 2209.0,968.4 2209.9,955.4 2210.8,942.0 2211.5,929.8 2212.1,915.9 2212.5,901.0 2212.9,885.7 2213.2,870.4 2213.5,855.5 2214.0,841.4 2214.5,830.3 2215.1,819.6 2215.7,809.2 2216.4,798.9 2217.1,788.7 2217.8,778.3 2218.5,767.8 2219.2,757.5 2220.0,747.1 2220.8,736.6 2221.7,726.0 2222.8,715.2 2224.1,702.5 2225.6,688.9 2227.2,675.1 2228.9,661.8 2230.8,649.7 2232.9,639.4 2234.3,633.7 2235.9,628.0 2237.5,622.6 2239.1,618.1 2240.6,615.1 2241.8,614.1 2243.0,616.6 2243.9,623.0 2244.4,632.1 2244.8,642.8 2245.2,654.0 2245.6,664.6 2246.2,679.4 2246.7,695.5 2247.1,712.6 2247.5,730.3 2247.8,748.1 2248.1,765.7 2248.3,786.9 2248.5,811.5 2248.5,836.3 2248.6,858.0 2248.9,873.4 2249.3,879.3 2250.0,874.0 2250.9,860.1 2252.0,840.5 2253.0,818.4 2253.8,796.6 2254.4,778.3 2254.5,765.0 2254.3,752.0 2254.0,739.3 2253.8,726.8 2253.9,714.6 2254.4,702.5 2255.4,690.2 2256.7,676.3 2258.3,662.7 2260.0,650.9 2261.7,642.6 2263.2,639.4 2264.3,641.5 2265.5,646.9 2266.6,654.6 2267.7,663.5 2268.9,672.3 2270.0,680.0 2271.2,687.7 2272.4,696.4 2273.7,705.2 2274.9,712.8 2276.1,718.2 2277.1,720.2 2278.4,714.4 2279.2,699.5 2279.8,678.8 2280.5,655.4 2281.6,632.7 2283.4,614.0 2285.5,600.2 2288.1,585.1 2290.9,570.5 2293.7,558.0 2296.4,549.3 2298.6,546.0 2299.6,546.8 2300.4,549.1 2301.3,552.3 2302.1,556.1 2302.8,560.0 2303.6,563.6 2304.4,568.2 2304.9,573.5 2305.3,578.9 2306.0,584.1 2307.0,588.4 2308.7,591.4 2311.0,593.1 2313.8,594.2 2316.5,594.6 2318.8,594.0 2320.2,592.5 2321.2,590.0 2321.9,586.9 2322.5,583.3 2323.1,579.7 2323.8,576.3 2324.7,572.1 2325.6,567.4 2326.4,562.6 2327.4,558.0 2328.6,554.0 2330.2,551.0 2331.9,549.2 2333.9,548.0 2336.0,547.1 2338.0,546.0" fill="none" stroke="#c07381" stroke-width="3.6" stroke-linejoin="round" stroke-linecap="round" />
<polyline points="272.0,189.3 298.0,188.8" fill="none" stroke="#d9812a" stroke-width="4.5" stroke-linejoin="round" stroke-linecap="round" />
<polyline points="349.0,185.3 371.0,183.6" fill="none" stroke="#d9812a" stroke-width="4.5" stroke-linejoin="round" stroke-linecap="round" />
<polyline points="414.5,183.9 434.5,183.9" fill="none" stroke="#d9812a" stroke-width="4.5" stroke-linejoin="round" stroke-linecap="round" />
<polyline points="478.0,185.5 490.0,189.0 504.0,195.5" fill="none" stroke="#d9812a" stroke-width="4.5" stroke-linejoin="round" stroke-linecap="round" />
<rect x="211.2" y="53.4" width="2127.3" height="1241.3999999999999" fill="none" stroke="#8d8d8d" stroke-width="4.2"/>
<line x1="190.5" y1="53.4" x2="211.2" y2="53.4" stroke="#8d8d8d" stroke-width="4.2" stroke-linecap="butt"/>
<text transform="translate(161.5,53.4) rotate(-90)" font-size="41.5" font-weight="normal" fill="#4a4a4a" text-anchor="middle" textLength="65.0" lengthAdjust="spacingAndGlyphs" stroke="#4a4a4a" stroke-width="0.8">100</text>
<line x1="190.5" y1="195.5" x2="211.2" y2="195.5" stroke="#8d8d8d" stroke-width="4.2" stroke-linecap="butt"/>
<text transform="translate(161.5,195.5) rotate(-90)" font-size="41.5" font-weight="normal" fill="#4a4a4a" text-anchor="middle" textLength="47.0" lengthAdjust="spacingAndGlyphs" stroke="#4a4a4a" stroke-width="0.8">95</text>
<line x1="190.5" y1="337.5" x2="211.2" y2="337.5" stroke="#8d8d8d" stroke-width="4.2" stroke-linecap="butt"/>
<text transform="translate(161.5,337.5) rotate(-90)" font-size="41.5" font-weight="normal" fill="#4a4a4a" text-anchor="middle" textLength="47.0" lengthAdjust="spacingAndGlyphs" stroke="#4a4a4a" stroke-width="0.8">90</text>
<line x1="190.5" y1="479.5" x2="211.2" y2="479.5" stroke="#8d8d8d" stroke-width="4.2" stroke-linecap="butt"/>
<text transform="translate(161.5,479.5) rotate(-90)" font-size="41.5" font-weight="normal" fill="#4a4a4a" text-anchor="middle" textLength="47.0" lengthAdjust="spacingAndGlyphs" stroke="#4a4a4a" stroke-width="0.8">85</text>
<line x1="190.5" y1="621.6" x2="211.2" y2="621.6" stroke="#8d8d8d" stroke-width="4.2" stroke-linecap="butt"/>
<text transform="translate(161.5,621.6) rotate(-90)" font-size="41.5" font-weight="normal" fill="#4a4a4a" text-anchor="middle" textLength="47.0" lengthAdjust="spacingAndGlyphs" stroke="#4a4a4a" stroke-width="0.8">80</text>
<line x1="190.5" y1="763.6" x2="211.2" y2="763.6" stroke="#8d8d8d" stroke-width="4.2" stroke-linecap="butt"/>
<text transform="translate(161.5,763.6) rotate(-90)" font-size="41.5" font-weight="normal" fill="#4a4a4a" text-anchor="middle" textLength="47.0" lengthAdjust="spacingAndGlyphs" stroke="#4a4a4a" stroke-width="0.8">75</text>
<line x1="190.5" y1="905.7" x2="211.2" y2="905.7" stroke="#8d8d8d" stroke-width="4.2" stroke-linecap="butt"/>
<text transform="translate(161.5,905.7) rotate(-90)" font-size="41.5" font-weight="normal" fill="#4a4a4a" text-anchor="middle" textLength="47.0" lengthAdjust="spacingAndGlyphs" stroke="#4a4a4a" stroke-width="0.8">70</text>
<line x1="500.8" y1="1294.8" x2="500.8" y2="1315.0" stroke="#8d8d8d" stroke-width="4.2" stroke-linecap="butt"/>
<text x="500.8" y="1372.4" font-size="40.5" font-weight="normal" fill="#4a4a4a" text-anchor="middle" textLength="84.0" lengthAdjust="spacingAndGlyphs" stroke="#4a4a4a" stroke-width="0.8">3500</text>
<line x1="792.5" y1="1294.8" x2="792.5" y2="1315.0" stroke="#8d8d8d" stroke-width="4.2" stroke-linecap="butt"/>
<text x="792.5" y="1372.4" font-size="40.5" font-weight="normal" fill="#4a4a4a" text-anchor="middle" textLength="84.0" lengthAdjust="spacingAndGlyphs" stroke="#4a4a4a" stroke-width="0.8">3000</text>
<line x1="1084.2" y1="1294.8" x2="1084.2" y2="1315.0" stroke="#8d8d8d" stroke-width="4.2" stroke-linecap="butt"/>
<text x="1084.2" y="1372.4" font-size="40.5" font-weight="normal" fill="#4a4a4a" text-anchor="middle" textLength="84.0" lengthAdjust="spacingAndGlyphs" stroke="#4a4a4a" stroke-width="0.8">2500</text>
<line x1="1375.9" y1="1294.8" x2="1375.9" y2="1315.0" stroke="#8d8d8d" stroke-width="4.2" stroke-linecap="butt"/>
<text x="1375.9" y="1372.4" font-size="40.5" font-weight="normal" fill="#4a4a4a" text-anchor="middle" textLength="84.0" lengthAdjust="spacingAndGlyphs" stroke="#4a4a4a" stroke-width="0.8">2000</text>
<line x1="1667.6" y1="1294.8" x2="1667.6" y2="1315.0" stroke="#8d8d8d" stroke-width="4.2" stroke-linecap="butt"/>
<text x="1667.6" y="1372.4" font-size="40.5" font-weight="normal" fill="#4a4a4a" text-anchor="middle" textLength="84.0" lengthAdjust="spacingAndGlyphs" stroke="#4a4a4a" stroke-width="0.8">1500</text>
<line x1="1959.3" y1="1294.8" x2="1959.3" y2="1315.0" stroke="#8d8d8d" stroke-width="4.2" stroke-linecap="butt"/>
<text x="1959.3" y="1372.4" font-size="40.5" font-weight="normal" fill="#4a4a4a" text-anchor="middle" textLength="84.0" lengthAdjust="spacingAndGlyphs" stroke="#4a4a4a" stroke-width="0.8">1000</text>
<line x1="2251.0" y1="1294.8" x2="2251.0" y2="1315.0" stroke="#8d8d8d" stroke-width="4.2" stroke-linecap="butt"/>
<text x="2251.0" y="1372.4" font-size="40.5" font-weight="normal" fill="#4a4a4a" text-anchor="middle" textLength="62.5" lengthAdjust="spacingAndGlyphs" stroke="#4a4a4a" stroke-width="0.8">500</text>
<text x="1013.0" y="1469.0" font-size="66" font-weight="bold" fill="#111" text-anchor="start" textLength="411.0" lengthAdjust="spacingAndGlyphs" >Wavenumber</text>
<text x="1447.0" y="1469.0" font-size="66" font-weight="bold" fill="#111" text-anchor="start" textLength="219.0" lengthAdjust="spacingAndGlyphs" >(cm&#8722;1)</text>
<text transform="translate(85.7,963.4) rotate(-90)" font-size="68" font-weight="bold" fill="#111" text-anchor="start" textLength="452.0" lengthAdjust="spacingAndGlyphs" >Transmittance</text>
<text transform="translate(85.7,486.0) rotate(-90)" font-size="68" font-weight="bold" fill="#111" text-anchor="start" textLength="117.0" lengthAdjust="spacingAndGlyphs" >(%)</text>
<text x="285.7" y="1133.4" font-size="73.6" font-weight="normal" fill="#1e1e1e" text-anchor="start" textLength="421.0" lengthAdjust="spacingAndGlyphs" >MSNTRP (blue)</text>
<text x="290.2" y="1219.8" font-size="73.6" font-weight="normal" fill="#1e1e1e" text-anchor="start" textLength="259.0" lengthAdjust="spacingAndGlyphs" >TRP (red)</text>
<line x1="1178.2" y1="209.0" x2="1178.2" y2="261.0" stroke="#6a6a6a" stroke-width="4.4" stroke-linecap="butt"/>
<text transform="translate(1198.0,363.5) rotate(-90)" font-size="46.5" font-weight="normal" fill="#858585" text-anchor="start" textLength="103.0" lengthAdjust="spacingAndGlyphs" >2333</text>
<line x1="1596.0" y1="1063.0" x2="1596.0" y2="1157.0" stroke="#9090c8" stroke-width="3.4" stroke-linecap="butt"/>
<polyline points="1596.0,1063.0 1596.0,1098.0 1627.6,1128.0 1627.6,1157.0" fill="none" stroke="#d99a9e" stroke-width="3.4" stroke-linejoin="round" stroke-linecap="round" />
<line x1="1680.4" y1="1063.0" x2="1680.4" y2="1157.0" stroke="#9090c8" stroke-width="3.4" stroke-linecap="butt"/>
<polyline points="1680.4,1063.0 1680.4,1098.0 1711.3,1128.0 1711.3,1157.0" fill="none" stroke="#d99a9e" stroke-width="3.4" stroke-linejoin="round" stroke-linecap="round" />
<text transform="translate(1605.5,1280.2) rotate(-90)" font-size="33" font-weight="normal" fill="#4a4a4a" text-anchor="start" textLength="110.0" lengthAdjust="spacingAndGlyphs" stroke="#4a4a4a" stroke-width="0.9">1622.06</text>
<text transform="translate(1637.0,1280.2) rotate(-90)" font-size="33" font-weight="normal" fill="#4a4a4a" text-anchor="start" textLength="110.0" lengthAdjust="spacingAndGlyphs" stroke="#4a4a4a" stroke-width="0.9">1621.29</text>
<text transform="translate(1691.0,1280.2) rotate(-90)" font-size="33" font-weight="normal" fill="#4a4a4a" text-anchor="start" textLength="110.0" lengthAdjust="spacingAndGlyphs" stroke="#4a4a4a" stroke-width="0.9">1477.88</text>
<text transform="translate(1722.5,1280.2) rotate(-90)" font-size="33" font-weight="normal" fill="#4a4a4a" text-anchor="start" textLength="110.0" lengthAdjust="spacingAndGlyphs" stroke="#4a4a4a" stroke-width="0.9">1476.90</text>
<text x="18.8" y="1668.7" font-size="151" font-weight="bold" fill="#000" text-anchor="start" textLength="105.2" lengthAdjust="spacingAndGlyphs" >B</text>
<polyline points="199.0,1592.2 208.4,1592.1 218.6,1592.1 228.8,1592.1 238.2,1591.9 246.1,1591.5 251.8,1590.7 253.9,1589.8 255.3,1588.7 257.6,1587.8 270.6,1586.3 292.1,1585.3 318.1,1584.8 344.3,1584.8 366.5,1585.3 380.6,1586.4 383.4,1587.0 385.2,1587.8 386.9,1588.6 389.3,1589.3 394.0,1590.0 399.9,1590.5 406.4,1591.0 413.1,1591.6 419.3,1592.4 424.5,1593.7 427.5,1594.8 430.2,1596.1 432.7,1597.4 435.0,1599.0 437.1,1600.6 439.1,1602.5 440.9,1604.6 442.5,1607.0 443.8,1609.5 445.2,1612.1 446.5,1614.7 447.9,1617.1 449.3,1619.6 450.7,1622.5 452.2,1625.3 453.6,1627.8 455.1,1629.6 456.7,1630.3 458.3,1629.6 459.9,1627.7 461.5,1625.0 463.3,1622.1 465.3,1619.4 467.6,1617.3 470.8,1615.6 474.5,1614.1 478.5,1613.0 482.7,1612.1 486.9,1611.6 491.0,1611.5 495.4,1611.8 499.9,1612.6 504.4,1613.7 508.9,1615.2 513.2,1616.9 517.3,1618.8 521.0,1621.0 524.6,1623.5 528.0,1626.2 531.3,1629.1 534.6,1632.1 537.8,1634.9 540.8,1637.6 543.6,1640.3 546.4,1643.0 549.2,1645.7 552.2,1648.4 555.4,1651.0 559.4,1653.8 563.6,1656.6 568.0,1659.3 572.5,1662.0 577.1,1664.6 581.7,1667.1 586.4,1669.8 591.2,1672.6 596.1,1675.3 601.0,1677.8 606.0,1680.0 611.0,1681.7 615.8,1682.7 620.5,1683.2 625.4,1683.5 630.2,1683.6 635.2,1683.9 640.3,1684.7 646.5,1686.1 652.9,1687.9 659.5,1690.0 666.0,1692.1 672.3,1694.3 678.3,1696.4 683.0,1698.1 687.3,1699.8 691.6,1701.5 695.8,1703.2 700.1,1704.9 704.7,1706.6 710.3,1708.9 716.3,1711.6 722.3,1714.4 728.4,1716.7 734.3,1718.1 739.8,1718.3 744.5,1717.1 749.0,1714.9 753.3,1712.0 757.5,1708.7 761.8,1705.3 766.2,1702.2 771.1,1698.8 776.0,1695.1 781.0,1691.4 785.9,1687.7 790.7,1684.4 795.4,1681.7 799.0,1679.9 802.6,1678.1 806.1,1676.6 809.6,1675.4 812.8,1674.7 815.9,1674.4 818.4,1674.9 820.7,1676.2 822.9,1677.6 825.1,1678.6 827.6,1678.8 831.1,1677.2 834.9,1674.1 838.9,1670.1 843.0,1665.9 847.1,1662.2 851.0,1659.8 854.0,1659.0 857.0,1658.7 860.0,1658.8 862.9,1658.9 865.8,1658.9 868.6,1658.3 871.1,1657.2 873.5,1655.8 875.8,1654.1 878.2,1652.4 880.6,1650.8 883.3,1649.5 886.8,1648.2 890.6,1647.2 894.6,1646.3 898.7,1645.5 902.7,1644.6 906.7,1643.7 910.6,1642.7 914.6,1641.8 918.5,1640.8 922.4,1639.8 926.3,1638.8 930.1,1637.8 933.4,1636.8 936.5,1635.9 939.6,1634.9 942.7,1633.9 946.2,1632.9 950.0,1632.0 956.9,1630.6 964.7,1629.4 973.2,1628.1 982.1,1626.8 991.2,1625.4 1000.3,1623.8 1011.3,1621.5 1022.7,1618.8 1034.3,1616.0 1046.3,1613.1 1058.3,1610.4 1070.5,1608.0 1084.5,1606.4 1100.0,1605.8 1115.6,1605.4 1130.2,1604.3 1142.5,1601.9 1151.3,1597.4 1154.8,1592.3 1156.8,1585.4 1157.8,1577.9 1158.4,1571.0 1159.0,1566.0 1160.1,1564.0 1161.5,1566.0 1162.8,1570.9 1164.1,1577.5 1165.5,1584.1 1167.1,1589.5 1168.9,1592.2 1171.1,1591.6 1173.4,1589.7 1175.9,1588.6 1177.8,1589.3 1179.8,1590.8 1181.8,1592.7 1184.0,1594.5 1186.4,1595.7 1188.9,1596.3 1191.6,1596.6 1194.4,1596.6 1197.4,1596.5 1200.6,1596.2 1204.0,1595.7 1210.1,1594.5 1217.0,1592.6 1224.4,1590.2 1231.9,1587.7 1239.3,1585.4 1246.2,1583.4 1252.1,1582.2 1258.2,1581.3 1264.3,1580.5 1269.8,1579.6 1274.5,1578.2 1277.8,1576.3 1279.3,1573.6 1279.7,1570.4 1280.1,1567.4 1281.3,1565.8 1283.4,1566.0 1286.2,1567.4 1289.4,1569.7 1292.7,1572.2 1295.9,1574.6 1298.8,1576.3 1301.4,1577.5 1303.8,1578.5 1306.3,1579.3 1309.4,1579.9 1314.2,1580.5 1320.2,1581.0 1326.7,1581.2 1333.3,1581.1 1339.4,1580.7 1344.5,1579.9 1347.2,1578.9 1349.6,1577.6 1351.8,1576.1 1353.9,1574.7 1356.1,1573.5 1358.6,1572.8 1362.0,1572.6 1365.7,1572.8 1369.5,1573.4 1373.3,1574.2 1376.7,1575.2 1379.6,1576.3 1382.4,1578.3 1384.6,1580.6 1386.7,1581.6 1388.3,1580.5 1389.8,1578.2 1391.4,1575.7 1393.7,1573.9 1397.2,1573.2 1401.5,1573.3 1406.5,1573.9 1411.7,1574.7 1416.9,1575.6 1421.8,1576.3 1426.6,1576.9 1431.5,1577.8 1436.5,1578.7 1441.3,1579.4 1445.8,1579.9 1449.9,1579.9 1452.9,1579.5 1455.6,1578.7 1458.1,1577.7 1460.8,1576.9 1464.0,1576.3 1469.2,1575.8 1475.3,1575.5 1481.9,1575.4 1488.4,1575.7 1494.3,1576.3 1499.1,1577.4 1501.8,1578.5 1504.1,1579.7 1506.1,1581.2 1507.9,1583.0 1509.6,1585.1 1511.2,1587.9 1512.6,1591.1 1513.7,1594.7 1514.7,1598.5 1515.6,1602.4 1516.6,1606.2 1517.6,1610.4 1518.6,1614.7 1519.4,1619.1 1520.3,1623.7 1521.1,1628.4 1522.0,1633.4 1523.3,1640.3 1524.6,1647.8 1525.9,1655.6 1527.2,1663.5 1528.4,1671.5 1529.4,1679.3 1530.2,1687.0 1530.8,1694.8 1531.3,1702.6 1531.7,1710.3 1532.3,1717.9 1533.0,1725.2 1533.7,1731.7 1534.5,1738.3 1535.3,1744.7 1536.3,1750.9 1537.3,1756.7 1538.6,1762.0 1539.7,1765.4 1540.9,1768.4 1542.2,1771.2 1543.5,1774.0 1544.8,1777.0 1545.9,1780.3 1547.2,1786.0 1548.3,1793.0 1549.3,1800.3 1550.2,1806.8 1551.2,1811.6 1552.3,1813.4 1553.3,1812.3 1554.4,1809.4 1555.6,1805.1 1556.7,1800.0 1557.7,1794.6 1558.7,1789.5 1559.8,1781.5 1560.7,1772.4 1561.4,1762.7 1562.2,1752.8 1563.1,1743.2 1564.3,1734.4 1565.6,1727.6 1567.0,1721.0 1568.6,1714.6 1570.2,1708.5 1571.8,1702.9 1573.4,1697.7 1574.5,1694.2 1575.6,1690.4 1576.7,1686.9 1577.8,1684.0 1578.8,1681.9 1579.9,1681.2 1581.0,1682.2 1582.2,1684.8 1583.3,1688.5 1584.4,1692.8 1585.4,1697.3 1586.3,1701.4 1587.2,1706.3 1587.9,1711.6 1588.5,1717.0 1589.0,1722.7 1589.5,1728.5 1590.0,1734.4 1590.6,1741.8 1591.1,1749.8 1591.5,1757.9 1592.1,1766.0 1592.7,1773.6 1593.6,1780.3 1594.4,1785.0 1595.2,1789.9 1596.1,1794.5 1597.0,1798.5 1598.1,1801.2 1599.1,1802.3 1600.3,1801.3 1601.6,1798.6 1602.9,1794.6 1604.3,1789.9 1605.5,1785.0 1606.5,1780.3 1607.5,1773.2 1608.1,1765.0 1608.5,1756.2 1608.8,1747.7 1609.4,1740.2 1610.2,1734.4 1611.0,1731.1 1611.9,1728.1 1612.9,1726.0 1613.8,1725.2 1614.6,1726.1 1615.4,1728.4 1616.3,1731.7 1617.0,1735.6 1617.8,1739.7 1618.4,1743.6 1619.1,1750.1 1619.6,1758.2 1620.0,1766.8 1620.4,1774.4 1620.7,1780.0 1621.2,1782.1 1621.8,1780.2 1622.3,1775.0 1622.9,1767.7 1623.6,1759.4 1624.2,1751.0 1624.8,1743.6 1625.3,1736.7 1625.7,1729.6 1626.1,1722.4 1626.7,1715.5 1627.4,1709.0 1628.5,1703.2 1629.4,1699.4 1630.4,1695.8 1631.5,1692.3 1632.8,1689.2 1634.2,1686.7 1635.9,1684.8 1638.0,1683.9 1640.5,1683.8 1642.9,1683.8 1645.0,1683.0 1646.4,1681.4 1647.6,1679.2 1648.6,1676.8 1649.5,1674.3 1650.5,1672.0 1651.7,1669.2 1652.9,1666.1 1654.0,1663.7 1655.1,1662.8 1656.0,1663.6 1656.8,1665.6 1657.6,1668.5 1658.4,1672.0 1659.1,1675.7 1659.7,1679.3 1660.5,1686.4 1661.1,1695.6 1661.6,1705.5 1662.0,1714.4 1662.6,1720.9 1663.4,1723.4 1664.2,1722.2 1665.1,1719.1 1666.1,1714.6 1667.1,1709.4 1668.0,1704.1 1668.9,1699.5 1669.6,1694.5 1670.1,1688.8 1670.6,1683.0 1671.2,1677.8 1672.1,1673.9 1673.5,1672.0 1675.3,1672.4 1677.4,1674.1 1679.6,1676.2 1681.8,1677.5 1684.3,1677.5 1686.9,1676.9 1689.1,1677.5 1690.8,1680.0 1691.9,1684.0 1692.8,1689.1 1693.4,1694.9 1694.0,1701.0 1694.6,1706.9 1695.4,1715.3 1696.1,1724.8 1696.6,1734.7 1697.1,1744.5 1697.6,1753.8 1698.3,1762.0 1698.8,1767.4 1699.4,1773.2 1700.0,1778.6 1700.6,1783.2 1701.3,1786.4 1701.9,1787.6 1702.8,1785.4 1703.7,1779.5 1704.7,1771.2 1705.6,1761.6 1706.6,1752.0 1707.5,1743.6 1708.4,1735.7 1709.2,1727.4 1710.0,1719.1 1710.8,1711.1 1711.8,1703.8 1713.0,1697.7 1713.8,1694.4 1714.7,1691.1 1715.6,1688.0 1716.5,1685.5 1717.5,1683.7 1718.5,1683.0 1719.9,1683.8 1721.4,1686.0 1722.8,1689.0 1724.0,1692.2 1725.1,1696.5 1725.8,1701.6 1726.4,1707.4 1726.8,1713.5 1727.2,1719.5 1727.6,1725.2 1728.0,1731.2 1728.2,1738.0 1728.4,1744.7 1728.7,1750.6 1729.0,1754.8 1729.5,1756.4 1730.2,1754.6 1731.0,1749.8 1731.9,1743.3 1732.9,1736.3 1733.9,1729.8 1735.0,1725.2 1736.2,1721.8 1737.4,1719.0 1738.7,1717.9 1739.6,1718.7 1740.6,1720.7 1741.5,1723.6 1742.5,1727.1 1743.4,1730.8 1744.2,1734.4 1745.4,1740.6 1746.4,1747.8 1747.2,1755.6 1748.1,1763.8 1748.9,1772.1 1749.7,1780.3 1750.6,1789.2 1751.6,1798.5 1752.4,1807.8 1753.3,1817.2 1754.3,1826.5 1755.2,1835.4 1756.1,1843.5 1756.9,1851.8 1757.8,1859.9 1758.7,1867.7 1759.7,1874.9 1760.7,1881.3 1761.4,1885.3 1762.1,1889.4 1762.8,1893.2 1763.6,1896.5 1764.4,1898.7 1765.3,1899.6 1766.3,1898.8 1767.4,1896.6 1768.5,1893.3 1769.7,1889.4 1770.7,1885.3 1771.7,1881.3 1772.9,1874.9 1773.9,1867.6 1774.8,1859.7 1775.6,1851.5 1776.3,1843.3 1777.2,1835.4 1778.1,1827.6 1779.0,1819.7 1779.8,1811.7 1780.7,1803.9 1781.7,1796.5 1782.7,1789.5 1783.5,1784.4 1784.4,1779.4 1785.2,1774.6 1786.1,1770.1 1787.1,1765.9 1788.2,1762.0 1789.1,1759.0 1790.1,1756.2 1791.1,1753.7 1792.3,1751.3 1793.7,1749.1 1795.4,1747.0 1797.3,1744.8 1799.4,1742.8 1801.3,1741.6 1803.0,1741.4 1804.6,1742.9 1805.8,1746.1 1806.9,1750.4 1807.8,1755.3 1808.6,1760.4 1809.4,1765.2 1810.2,1770.9 1810.8,1777.1 1811.3,1783.4 1811.7,1789.8 1812.3,1796.1 1813.0,1802.0 1813.8,1806.9 1814.6,1811.6 1815.5,1816.2 1816.5,1820.7 1817.5,1825.1 1818.6,1829.5 1819.6,1833.7 1820.6,1837.9 1821.7,1842.1 1822.9,1846.1 1824.3,1849.9 1825.9,1853.3 1827.5,1855.7 1829.4,1857.9 1831.4,1859.8 1833.4,1861.8 1835.3,1863.8 1836.9,1866.2 1838.4,1869.2 1839.6,1872.4 1840.7,1875.7 1841.7,1879.2 1842.5,1882.8 1843.3,1886.4 1844.0,1890.5 1844.6,1894.7 1845.0,1899.0 1845.3,1903.4 1845.7,1907.8 1846.1,1912.1 1846.4,1916.9 1846.6,1922.4 1846.8,1927.9 1847.1,1932.7 1847.7,1936.3 1848.8,1937.8 1850.0,1937.0 1851.5,1934.5 1853.2,1931.1 1855.0,1927.6 1857.0,1924.6 1859.0,1923.1 1861.4,1923.1 1863.9,1924.0 1866.6,1925.4 1869.3,1927.1 1871.8,1928.6 1874.2,1929.8 1876.6,1931.1 1878.9,1932.4 1881.0,1934.0 1882.8,1936.0 1884.3,1938.4 1885.6,1941.0 1886.6,1944.0 1887.5,1947.2 1888.3,1950.9 1889.0,1955.0 1890.0,1964.6 1890.4,1976.1 1890.4,1989.1 1890.2,2003.1 1890.0,2017.8 1890.2,2032.6 1890.8,2054.0 1891.4,2077.9 1892.1,2103.0 1893.0,2127.6 1894.2,2150.6 1895.7,2170.4 1896.9,2181.1 1898.2,2190.9 1899.6,2199.9 1901.0,2208.5 1902.5,2217.0 1904.0,2225.5 1905.2,2234.0 1906.1,2243.4 1907.1,2252.6 1908.3,2260.7 1909.9,2266.7 1912.2,2269.6 1914.2,2269.1 1916.7,2266.8 1919.2,2264.1 1921.5,2261.8 1923.3,2261.3 1924.7,2263.6 1925.4,2268.3 1925.6,2274.5 1925.5,2281.4 1925.6,2288.3 1926.0,2294.4 1926.7,2300.2 1927.6,2306.9 1928.5,2313.4 1929.5,2319.1 1930.5,2323.2 1931.5,2324.7 1932.8,2322.6 1934.3,2317.1 1935.8,2309.1 1937.2,2299.6 1938.6,2289.8 1939.8,2280.6 1941.1,2268.3 1942.2,2255.0 1943.1,2240.9 1943.9,2226.4 1944.6,2212.0 1945.3,2197.9 1945.9,2184.1 1946.3,2170.4 1946.6,2156.6 1947.0,2142.8 1947.4,2129.1 1948.0,2115.3 1948.8,2101.5 1949.7,2087.7 1950.7,2073.9 1951.7,2060.2 1952.7,2046.4 1953.6,2032.6 1954.4,2018.8 1955.1,2004.9 1955.7,1991.0 1956.4,1977.2 1957.0,1963.5 1957.7,1950.0 1958.4,1937.0 1959.0,1923.9 1959.7,1910.8 1960.3,1898.2 1961.0,1886.3 1961.8,1875.4 1962.3,1868.4 1962.8,1861.8 1963.3,1855.5 1963.9,1849.6 1964.5,1844.0 1965.4,1838.7 1966.1,1834.6 1966.7,1830.4 1967.3,1826.4 1968.2,1822.9 1969.3,1820.1 1970.9,1818.5 1973.3,1818.6 1976.2,1820.1 1979.3,1821.7 1982.0,1822.1 1984.1,1821.0 1985.9,1819.2 1987.7,1816.8 1989.4,1814.1 1991.1,1811.1 1993.4,1805.7 1995.6,1798.4 1997.8,1790.5 1999.8,1783.3 2001.5,1778.1 2003.0,1776.2 2004.0,1777.5 2004.7,1780.7 2005.3,1785.4 2005.8,1790.9 2006.2,1796.6 2006.7,1802.0 2007.3,1810.7 2007.8,1821.6 2008.2,1833.0 2008.6,1843.1 2009.0,1850.5 2009.5,1853.3 2010.1,1850.0 2010.7,1841.4 2011.4,1829.4 2012.1,1816.0 2013.0,1803.1 2014.1,1792.8 2015.0,1786.9 2015.9,1781.2 2016.9,1775.9 2018.0,1770.8 2019.2,1766.1 2020.5,1761.6 2021.6,1758.1 2022.9,1754.3 2024.2,1750.7 2025.5,1747.7 2026.7,1745.7 2027.8,1745.0 2029.3,1748.8 2030.5,1758.1 2031.5,1770.0 2032.4,1781.8 2033.3,1791.0 2034.3,1794.6 2035.3,1792.0 2036.4,1785.1 2037.4,1775.6 2038.4,1765.0 2039.5,1754.9 2040.7,1746.9 2041.5,1742.2 2042.2,1737.3 2043.0,1732.7 2043.9,1728.8 2044.9,1726.0 2046.2,1724.8 2048.0,1725.7 2050.2,1728.5 2052.6,1732.5 2055.0,1737.3 2057.2,1742.3 2059.1,1746.9 2060.9,1752.0 2062.4,1757.5 2063.7,1763.2 2064.8,1769.1 2065.8,1774.8 2066.8,1780.3 2067.6,1785.0 2068.3,1789.5 2068.9,1794.0 2069.4,1798.5 2070.0,1803.2 2070.5,1808.3 2071.1,1816.4 2071.4,1826.2 2071.7,1836.4 2072.1,1845.5 2072.9,1852.1 2074.2,1854.8 2075.3,1853.7 2076.7,1850.7 2078.1,1846.6 2079.6,1842.5 2081.1,1839.3 2082.6,1838.0 2084.3,1838.8 2086.0,1841.1 2087.6,1844.2 2089.1,1847.4 2090.3,1851.0 2091.3,1855.7 2092.1,1860.7 2092.9,1865.1 2093.8,1868.4 2094.7,1869.7 2095.6,1868.5 2096.6,1865.3 2097.6,1861.3 2098.6,1857.2 2099.5,1854.1 2100.3,1852.9 2101.1,1853.9 2101.8,1856.5 2102.4,1860.2 2103.0,1864.6 2103.5,1869.2 2104.0,1873.4 2104.5,1878.9 2104.9,1884.7 2105.2,1890.8 2105.4,1897.2 2105.6,1903.8 2105.9,1910.7 2106.2,1921.5 2106.5,1934.6 2106.8,1948.1 2107.1,1960.2 2107.4,1968.8 2107.7,1972.1 2108.1,1968.8 2108.5,1960.3 2109.0,1948.3 2109.5,1934.8 2110.0,1921.6 2110.5,1910.7 2110.9,1903.3 2111.3,1896.3 2111.7,1889.4 2112.1,1882.7 2112.6,1876.2 2113.3,1869.7 2114.0,1863.7 2114.8,1857.7 2115.7,1851.7 2116.6,1846.0 2117.7,1840.8 2118.9,1836.2 2119.8,1833.1 2120.7,1830.2 2121.7,1827.6 2122.9,1825.2 2124.5,1823.2 2126.4,1821.7 2128.5,1820.6 2130.9,1819.6 2133.3,1818.7 2135.6,1817.6 2137.9,1815.9 2140.3,1813.8 2142.6,1811.8 2144.8,1810.4 2146.8,1810.1 2148.4,1811.3 2149.9,1813.9 2151.3,1817.0 2152.6,1820.1 2153.9,1822.4 2155.2,1823.2 2156.9,1821.3 2158.7,1816.9 2160.3,1811.2 2162.0,1805.5 2163.7,1801.0 2165.4,1799.0 2167.4,1799.6 2169.3,1801.8 2171.0,1804.5 2172.0,1807.8 2172.5,1812.3 2172.8,1817.2 2173.2,1821.8 2173.7,1825.3 2174.7,1826.9 2176.3,1825.7 2178.1,1822.4 2180.2,1819.1 2182.2,1817.6 2184.1,1818.3 2186.0,1820.2 2188.0,1822.9 2189.9,1825.9 2191.5,1828.7 2192.7,1831.6 2193.5,1835.0 2194.3,1838.6 2195.0,1841.8 2195.9,1844.3 2197.1,1845.5 2198.8,1844.8 2200.8,1842.7 2202.8,1840.6 2204.5,1839.9 2205.7,1840.9 2206.8,1842.8 2207.8,1845.5 2208.7,1848.6 2209.4,1851.8 2210.1,1854.8 2210.7,1858.5 2211.1,1862.5 2211.4,1866.7 2211.6,1870.9 2211.7,1875.1 2212.0,1879.0 2212.3,1882.7 2212.5,1886.7 2212.7,1890.7 2212.9,1894.2 2213.3,1896.7 2213.8,1897.6 2214.6,1895.5 2215.6,1890.1 2216.8,1883.1 2218.1,1876.0 2219.6,1870.4 2221.3,1867.8 2222.9,1868.4 2224.6,1870.6 2226.5,1873.2 2228.7,1875.3 2231.1,1876.5 2233.8,1877.5 2236.6,1878.4 2239.3,1879.5 2241.8,1880.9 2244.0,1882.7 2246.0,1884.6 2247.8,1886.8 2249.5,1889.2 2251.1,1892.0 2252.8,1895.8 2254.2,1900.3 2255.4,1905.1 2256.5,1910.1 2257.6,1915.1 2258.5,1920.0 2259.3,1924.6 2260.0,1929.1 2260.7,1933.7 2261.2,1938.3 2261.7,1943.0 2262.3,1947.9 2263.0,1953.7 2263.7,1959.7 2264.3,1965.7 2265.0,1972.0 2265.5,1978.5 2266.0,1985.1 2266.4,1993.3 2266.6,2001.8 2266.7,2010.6 2266.8,2019.6 2267.0,2028.7 2267.2,2037.9 2267.6,2048.0 2268.0,2058.3 2268.4,2068.7 2268.9,2079.3 2269.4,2090.1 2269.8,2101.0 2270.2,2113.3 2270.5,2126.0 2270.9,2138.9 2271.3,2151.8 2271.7,2164.5 2272.3,2176.8 2272.9,2187.8 2273.6,2198.6 2274.3,2209.3 2275.1,2219.8 2276.1,2230.1 2277.3,2240.0 2278.5,2249.5 2280.0,2260.1 2281.5,2270.4 2283.1,2279.4 2284.7,2285.6 2286.2,2288.0 2287.7,2285.6 2289.2,2279.4 2290.7,2270.4 2292.2,2260.1 2293.7,2249.5 2295.0,2240.0 2296.4,2230.1 2297.7,2219.8 2299.0,2209.3 2300.2,2198.6 2301.4,2187.8 2302.6,2176.8 2303.9,2164.4 2305.1,2151.5 2306.3,2138.4 2307.6,2125.4 2308.8,2112.8 2310.2,2101.0 2311.4,2091.9 2312.7,2083.1 2314.1,2074.6 2315.4,2066.4 2316.6,2058.4 2317.7,2050.5 2318.4,2043.8 2319.0,2037.2 2319.5,2030.8 2320.1,2024.6 2320.8,2018.7 2321.8,2013.1 2322.8,2008.9 2323.9,2004.8 2325.1,2000.8 2326.4,1997.1 2327.8,1993.7 2329.3,1990.7 2331.1,1988.0 2333.0,1985.8 2334.9,1983.7 2336.7,1981.4 2338.0,1979.4 2339.2,1977.5 2340.3,1975.4 2341.4,1973.1 2342.3,1970.2 2343.5,1964.0 2344.3,1956.2 2344.8,1947.4 2345.1,1938.1 2345.5,1928.8 2346.0,1920.0" fill="none" stroke="#7070b6" stroke-width="3.6" stroke-linejoin="round" stroke-linecap="round" />
<polyline points="202.0,1665.5 203.2,1665.3 204.8,1665.2 210.3,1665.1 219.0,1665.1 229.7,1665.1 241.1,1665.1 251.8,1664.9 260.6,1664.4 265.3,1663.8 269.5,1663.1 273.5,1662.2 277.4,1661.4 281.2,1660.7 285.2,1660.3 289.3,1660.2 293.3,1660.2 297.3,1660.4 301.3,1660.7 305.5,1661.0 309.8,1661.1 315.1,1661.2 320.8,1661.3 326.6,1661.4 332.3,1661.4 337.6,1661.3 342.5,1661.1 345.6,1660.8 348.4,1660.5 351.1,1660.0 353.7,1659.6 356.3,1659.1 359.0,1658.7 361.8,1658.3 364.7,1658.0 367.5,1657.7 370.3,1657.3 372.9,1656.8 375.3,1656.2 377.5,1655.2 379.3,1654.0 381.2,1652.9 383.5,1652.1 386.3,1651.7 389.4,1651.4 392.8,1651.4 396.3,1651.7 399.8,1652.2 403.2,1653.0 406.9,1654.3 410.8,1656.2 414.6,1658.3 418.3,1660.6 421.6,1663.0 424.5,1665.2 426.5,1667.0 428.2,1668.9 429.6,1670.8 431.1,1672.6 432.7,1674.3 434.8,1675.9 437.0,1677.1 439.1,1678.6 441.0,1680.8 442.8,1684.7 444.2,1689.6 445.3,1695.3 446.2,1701.4 447.0,1707.7 447.9,1713.7 448.8,1720.4 449.6,1727.6 450.2,1734.9 450.9,1742.0 451.5,1748.7 452.3,1754.7 452.9,1758.8 453.5,1763.1 454.1,1767.2 454.7,1770.7 455.4,1773.1 456.2,1774.0 457.2,1772.8 458.3,1769.5 459.4,1764.8 460.6,1759.3 461.9,1753.8 463.2,1749.0 464.7,1744.1 466.2,1739.1 467.9,1734.0 469.6,1729.0 471.4,1724.2 473.4,1719.8 475.1,1716.4 477.0,1713.2 478.9,1710.2 480.9,1707.3 483.0,1704.6 485.1,1702.2 487.3,1699.9 489.5,1697.6 491.7,1695.6 494.2,1694.1 496.8,1693.4 499.9,1693.6 503.3,1694.7 506.9,1696.4 510.6,1698.6 514.1,1701.1 517.3,1703.7 520.6,1707.0 523.7,1710.7 526.7,1714.8 529.4,1719.3 532.2,1723.9 534.9,1728.6 538.0,1734.4 541.0,1740.6 543.9,1747.1 546.7,1753.7 549.6,1760.3 552.5,1766.6 555.3,1772.5 558.1,1778.3 560.9,1784.1 563.8,1789.9 566.8,1795.8 570.0,1801.8 573.9,1809.1 578.0,1816.8 582.2,1824.6 586.7,1832.2 591.4,1839.4 596.4,1845.7 600.9,1850.4 605.7,1854.7 610.6,1858.7 615.6,1862.3 620.7,1865.8 625.6,1869.1 630.0,1871.7 634.5,1873.9 639.0,1875.9 643.4,1878.0 647.8,1880.5 652.0,1883.7 657.1,1888.8 662.0,1894.7 666.8,1901.3 671.6,1908.2 676.4,1915.1 681.3,1921.8 686.6,1928.6 692.0,1935.5 697.4,1942.4 702.8,1949.3 708.2,1956.1 713.5,1962.8 718.4,1969.8 723.4,1977.6 728.2,1985.3 733.1,1992.1 737.9,1996.9 742.7,1999.0 746.6,1998.3 750.6,1995.8 754.4,1992.0 758.3,1987.4 762.2,1982.4 766.2,1977.4 771.9,1969.6 777.6,1960.3 783.4,1950.3 789.2,1940.0 795.2,1930.3 801.3,1921.8 806.6,1915.6 812.1,1909.7 817.6,1904.2 823.1,1899.1 828.5,1894.2 833.5,1889.6 837.1,1886.3 840.4,1883.3 843.6,1880.4 846.9,1877.6 850.3,1874.8 854.0,1872.0 859.0,1868.3 864.6,1864.2 870.5,1860.1 876.2,1856.4 881.6,1853.4 886.2,1851.5 889.4,1851.1 892.2,1851.6 895.0,1852.0 897.9,1851.5 901.1,1849.6 904.5,1846.5 908.0,1842.8 911.5,1839.1 915.0,1836.0 918.4,1834.0 921.4,1833.5 924.3,1833.8 927.2,1834.3 930.1,1834.5 933.0,1834.0 935.9,1832.3 938.7,1829.8 941.4,1826.8 944.3,1823.5 947.4,1820.1 951.1,1817.0 957.8,1812.4 965.7,1807.7 974.3,1802.8 983.2,1798.0 992.0,1793.3 1000.3,1788.9 1007.5,1785.1 1014.7,1781.4 1021.7,1777.8 1028.7,1774.4 1035.6,1771.0 1042.4,1767.8 1048.4,1765.0 1054.2,1762.3 1059.9,1759.6 1065.6,1757.1 1071.5,1754.5 1077.5,1752.0 1084.6,1749.0 1092.3,1745.7 1100.1,1742.4 1107.5,1739.5 1114.2,1737.3 1119.7,1736.2 1122.7,1736.4 1125.2,1737.3 1127.5,1738.0 1130.2,1737.9 1134.0,1736.4 1138.5,1733.7 1143.2,1730.3 1147.8,1726.5 1151.8,1722.5 1154.8,1718.6 1156.4,1715.2 1157.4,1711.1 1158.0,1706.9 1158.5,1703.1 1159.1,1700.4 1160.1,1699.3 1161.3,1700.2 1162.5,1702.8 1163.8,1706.3 1165.3,1710.0 1167.0,1713.2 1168.9,1715.1 1171.2,1715.8 1173.8,1715.8 1176.6,1715.2 1179.6,1714.3 1182.9,1713.3 1188.5,1711.3 1195.1,1708.4 1202.2,1704.9 1209.3,1701.2 1215.9,1697.5 1221.6,1694.0 1225.0,1691.6 1227.9,1689.2 1230.6,1686.7 1233.2,1684.4 1236.0,1682.1 1239.1,1680.0 1242.9,1677.7 1247.1,1675.4 1251.4,1673.3 1255.8,1671.4 1259.9,1670.1 1263.7,1669.4 1266.9,1669.8 1270.1,1670.9 1273.1,1672.3 1275.7,1673.2 1277.8,1673.0 1279.1,1671.0 1279.5,1667.8 1280.0,1664.6 1281.3,1662.4 1283.4,1661.6 1286.1,1661.5 1289.2,1661.9 1292.3,1662.5 1295.3,1663.1 1298.0,1663.9 1300.7,1665.2 1303.3,1666.4 1306.2,1667.4 1309.4,1667.7 1314.5,1666.9 1320.4,1665.0 1326.8,1662.5 1333.2,1659.5 1339.2,1656.4 1344.5,1653.6 1347.9,1651.5 1351.0,1649.0 1354.0,1646.6 1356.7,1644.3 1359.4,1642.5 1362.1,1641.3 1364.8,1640.9 1367.4,1641.0 1369.9,1641.4 1372.6,1642.0 1375.4,1642.9 1378.3,1644.3 1381.3,1645.7 1384.1,1646.6 1386.7,1646.6 1388.6,1645.5 1390.1,1643.5 1391.5,1641.1 1393.0,1638.5 1394.8,1636.2 1397.2,1634.3 1402.6,1632.5 1409.4,1631.6 1417.2,1631.2 1425.1,1630.9 1432.8,1630.3 1439.4,1629.0 1443.9,1627.2 1448.0,1625.0 1451.8,1622.6 1455.7,1620.2 1459.6,1618.2 1464.0,1616.7 1469.7,1615.6 1476.1,1614.9 1482.7,1614.6 1489.0,1614.8 1494.6,1615.5 1499.1,1616.7 1501.5,1617.9 1503.5,1619.4 1505.2,1621.1 1506.6,1623.2 1507.9,1625.5 1509.1,1628.8 1509.8,1632.6 1510.2,1636.8 1510.4,1641.5 1510.6,1646.5 1511.0,1651.8 1511.9,1661.9 1512.8,1673.5 1513.7,1686.2 1514.7,1699.4 1515.6,1712.5 1516.5,1725.2 1517.4,1737.4 1518.3,1749.4 1519.2,1761.4 1520.1,1773.6 1521.0,1786.0 1522.0,1798.7 1523.2,1813.2 1524.5,1827.8 1525.9,1842.7 1527.2,1858.0 1528.4,1873.9 1529.4,1890.5 1530.2,1913.0 1530.7,1937.5 1531.0,1962.8 1531.3,1987.9 1531.9,2011.5 1533.0,2032.6 1534.1,2045.5 1535.4,2057.4 1536.9,2068.6 1538.4,2079.5 1539.9,2090.3 1541.3,2101.5 1542.7,2113.1 1544.2,2124.7 1545.6,2136.3 1547.0,2147.9 1548.4,2159.3 1549.6,2170.4 1550.6,2181.7 1551.6,2194.3 1552.5,2206.8 1553.3,2217.7 1554.2,2225.3 1555.1,2228.2 1555.8,2226.8 1556.5,2223.2 1557.2,2217.8 1557.9,2211.4 1558.5,2204.5 1559.2,2197.9 1560.3,2186.5 1561.3,2173.4 1562.3,2159.2 1563.2,2144.4 1564.0,2129.5 1564.7,2115.3 1565.1,2101.5 1565.4,2087.7 1565.5,2074.0 1565.6,2060.2 1565.8,2046.4 1566.1,2032.6 1566.6,2018.8 1567.3,2005.0 1568.0,1991.1 1568.8,1977.4 1569.5,1963.6 1570.2,1950.0 1570.7,1936.6 1571.0,1922.9 1571.3,1909.3 1571.8,1896.1 1572.4,1883.6 1573.4,1872.1 1574.4,1863.6 1575.6,1854.6 1576.8,1846.0 1578.2,1838.7 1579.5,1833.6 1580.8,1831.7 1582.1,1833.4 1583.4,1838.0 1584.7,1844.8 1585.9,1853.2 1587.1,1862.5 1588.1,1872.1 1589.6,1899.8 1590.1,1936.5 1590.0,1978.1 1589.9,2020.0 1590.0,2058.0 1590.9,2087.7 1591.6,2099.1 1592.5,2109.2 1593.4,2118.3 1594.4,2126.7 1595.4,2134.7 1596.4,2142.8 1597.3,2150.1 1598.2,2158.0 1599.1,2165.7 1600.0,2172.3 1601.0,2177.0 1601.9,2178.7 1602.9,2177.0 1603.8,2172.5 1604.8,2166.0 1605.8,2158.3 1606.7,2150.3 1607.4,2142.8 1608.2,2132.6 1608.7,2121.4 1609.1,2109.5 1609.5,2097.4 1609.8,2085.5 1610.2,2074.0 1610.6,2062.3 1611.0,2049.0 1611.4,2035.9 1611.8,2024.5 1612.3,2016.5 1613.0,2013.4 1613.6,2014.8 1614.3,2018.6 1615.0,2024.3 1615.8,2031.3 1616.5,2038.8 1617.1,2046.4 1618.1,2067.1 1618.9,2095.5 1619.5,2126.6 1620.0,2155.2 1620.5,2176.1 1621.2,2184.2 1621.9,2179.0 1622.6,2165.3 1623.4,2146.3 1624.1,2125.0 1624.8,2104.5 1625.3,2087.7 1625.6,2077.6 1625.8,2068.2 1626.0,2059.2 1626.2,2050.4 1626.4,2041.6 1626.7,2032.6 1627.1,2023.6 1627.5,2014.9 1627.9,2006.2 1628.4,1997.2 1628.9,1987.7 1629.5,1977.5 1630.3,1961.0 1631.0,1941.9 1631.7,1922.0 1632.7,1902.6 1634.1,1885.5 1635.9,1872.1 1637.0,1867.3 1638.2,1863.3 1639.4,1859.7 1640.7,1856.4 1642.0,1853.2 1643.2,1850.0 1644.2,1847.5 1645.1,1845.2 1646.1,1843.0 1647.0,1840.7 1647.9,1838.2 1648.7,1835.4 1649.8,1829.4 1650.9,1821.7 1651.8,1813.5 1652.7,1806.1 1653.4,1800.8 1654.2,1798.7 1655.0,1800.8 1655.7,1806.5 1656.3,1814.6 1656.8,1824.4 1657.4,1834.7 1657.9,1844.6 1658.7,1861.3 1659.4,1880.8 1660.1,1901.8 1660.7,1922.8 1661.2,1942.7 1661.6,1960.0 1661.8,1971.3 1661.9,1983.3 1661.9,1994.6 1662.0,2004.2 1662.1,2010.9 1662.5,2013.4 1663.2,2010.3 1664.0,2001.9 1665.0,1990.1 1666.1,1976.3 1667.1,1962.4 1668.0,1950.0 1668.7,1936.3 1669.1,1920.9 1669.5,1905.2 1670.0,1890.9 1671.0,1879.3 1672.6,1872.1 1674.4,1870.2 1676.2,1868.4 1677.7,1863.5 1679.0,1855.8 1680.2,1846.9 1681.3,1838.6 1682.4,1832.3 1683.6,1829.9 1684.9,1831.9 1686.3,1837.2 1687.6,1844.9 1688.9,1853.9 1690.0,1863.3 1690.9,1872.1 1691.7,1883.6 1692.2,1895.9 1692.4,1908.8 1692.5,1922.3 1692.6,1936.1 1692.8,1950.0 1693.2,1966.8 1693.7,1984.4 1694.1,2002.5 1694.6,2020.6 1695.1,2038.1 1695.6,2054.7 1696.0,2068.0 1696.5,2080.9 1696.9,2093.5 1697.3,2105.7 1697.8,2117.5 1698.3,2129.0 1698.7,2139.5 1699.2,2151.0 1699.7,2162.3 1700.1,2172.0 1700.6,2178.8 1701.1,2181.4 1701.7,2176.8 1702.4,2164.6 1703.1,2147.2 1703.8,2126.9 1704.5,2106.3 1705.2,2087.7 1706.1,2066.9 1707.1,2044.5 1708.1,2021.5 1709.1,1999.0 1710.1,1978.2 1711.1,1960.0 1711.7,1949.9 1712.2,1940.5 1712.7,1931.7 1713.3,1923.6 1714.0,1915.9 1714.8,1908.8 1715.4,1903.8 1716.1,1898.4 1716.9,1893.4 1717.7,1889.1 1718.5,1886.1 1719.4,1885.0 1720.4,1886.0 1721.5,1888.7 1722.7,1892.7 1723.8,1897.7 1724.9,1903.2 1725.8,1908.8 1727.2,1924.1 1728.0,1943.8 1728.3,1966.2 1728.4,1989.6 1728.5,2012.3 1728.7,2032.6 1728.9,2049.3 1729.0,2067.5 1729.1,2085.3 1729.2,2100.6 1729.5,2111.3 1730.0,2115.3 1730.8,2110.6 1731.9,2098.4 1733.1,2081.5 1734.4,2063.0 1735.7,2045.7 1736.9,2032.6 1737.6,2026.5 1738.3,2020.3 1739.0,2014.5 1739.7,2009.6 1740.4,2006.3 1741.0,2005.1 1741.8,2007.0 1742.5,2012.1 1743.3,2019.5 1744.0,2028.3 1744.6,2037.6 1745.2,2046.4 1745.9,2060.2 1746.4,2075.8 1746.7,2092.5 1747.0,2109.7 1747.4,2126.7 1747.9,2142.8 1748.5,2157.0 1749.2,2170.8 1749.9,2184.6 1750.6,2198.2 1751.4,2211.8 1752.1,2225.5 1752.8,2239.3 1753.4,2253.0 1754.1,2266.8 1754.7,2280.6 1755.4,2294.3 1756.2,2308.1 1757.0,2322.0 1757.8,2336.1 1758.6,2350.2 1759.5,2364.1 1760.5,2377.7 1761.7,2390.8 1762.9,2403.3 1764.3,2417.2 1765.7,2430.9 1767.2,2442.7 1768.6,2451.0 1770.0,2454.1 1771.0,2452.4 1771.9,2447.9 1772.9,2441.4 1773.8,2433.8 1774.7,2425.8 1775.5,2418.3 1776.6,2408.3 1777.5,2397.6 1778.4,2386.3 1779.3,2374.5 1780.2,2362.3 1781.0,2350.0 1782.0,2334.5 1782.8,2317.9 1783.7,2300.8 1784.6,2283.9 1785.5,2267.8 1786.5,2253.0 1787.3,2242.9 1788.2,2233.5 1789.1,2224.5 1790.0,2215.8 1791.0,2207.0 1792.0,2198.0 1793.1,2188.6 1794.3,2178.9 1795.5,2169.2 1796.8,2159.8 1798.0,2150.9 1799.3,2142.8 1800.2,2137.0 1801.0,2130.9 1801.8,2125.1 1802.7,2120.1 1803.7,2116.7 1804.8,2115.3 1806.0,2116.9 1807.5,2121.0 1809.0,2126.3 1810.5,2131.7 1811.9,2135.8 1813.1,2137.3 1814.7,2133.0 1815.8,2122.1 1816.5,2107.0 1817.1,2090.1 1817.7,2073.7 1818.6,2060.2 1819.3,2051.4 1819.8,2042.8 1820.3,2034.4 1821.1,2026.6 1822.3,2019.5 1824.1,2013.4 1825.8,2009.6 1827.9,2005.7 1830.2,2002.2 1832.5,1999.3 1834.6,1997.4 1836.5,1996.8 1837.9,1997.4 1839.2,1998.9 1840.4,2001.2 1841.5,2004.0 1842.5,2007.2 1843.4,2010.6 1845.1,2022.4 1845.9,2038.4 1846.1,2057.2 1846.0,2077.3 1845.9,2097.1 1846.1,2115.3 1846.5,2132.9 1846.9,2152.8 1847.3,2172.5 1847.8,2189.6 1848.3,2201.6 1848.9,2206.2 1849.6,2201.4 1850.4,2188.9 1851.2,2171.3 1852.2,2151.4 1853.2,2131.8 1854.4,2115.3 1855.6,2103.3 1856.9,2091.8 1858.3,2080.6 1859.8,2069.5 1861.2,2058.1 1862.6,2046.4 1864.1,2032.8 1865.5,2018.7 1867.0,2004.4 1868.4,1990.2 1869.7,1976.5 1870.9,1963.8 1871.7,1954.4 1872.4,1945.2 1873.0,1936.5 1873.7,1928.0 1874.5,1919.9 1875.5,1912.1 1876.5,1905.4 1877.7,1898.0 1879.0,1890.9 1880.3,1884.8 1881.6,1880.6 1882.8,1879.0 1883.8,1880.0 1884.8,1882.9 1885.8,1887.0 1886.7,1892.1 1887.6,1897.5 1888.3,1902.9 1889.2,1913.4 1889.7,1925.5 1889.9,1939.0 1890.0,1953.7 1890.0,1969.3 1890.2,1985.5 1890.7,2012.3 1891.2,2042.4 1891.8,2074.5 1892.3,2107.4 1892.7,2139.8 1893.0,2170.4 1893.0,2196.9 1892.8,2223.1 1892.5,2249.0 1892.3,2274.2 1892.4,2298.6 1893.0,2321.9 1894.0,2342.4 1895.3,2364.9 1896.8,2386.9 1898.4,2405.7 1899.9,2418.9 1901.2,2423.8 1902.2,2419.4 1903.2,2407.8 1904.1,2391.4 1905.0,2372.3 1905.8,2353.0 1906.7,2335.7 1907.6,2317.9 1908.6,2299.3 1909.4,2280.4 1910.3,2261.5 1911.2,2243.1 1912.2,2225.5 1913.1,2211.0 1914.0,2197.1 1915.0,2183.5 1915.9,2170.0 1916.9,2156.5 1917.7,2142.8 1918.5,2126.7 1919.2,2108.1 1919.8,2089.5 1920.5,2073.3 1921.2,2061.8 1921.9,2057.4 1922.6,2060.2 1923.3,2067.7 1924.0,2078.5 1924.7,2090.9 1925.4,2103.7 1926.0,2115.3 1926.6,2127.8 1927.2,2140.5 1927.7,2153.5 1928.1,2167.3 1928.5,2182.0 1928.8,2197.9 1928.9,2226.4 1928.7,2259.6 1928.3,2295.0 1928.0,2330.2 1928.1,2362.9 1928.8,2390.8 1929.6,2406.9 1930.6,2423.7 1931.8,2439.5 1933.1,2452.7 1934.4,2461.8 1935.6,2465.2 1936.7,2462.3 1937.9,2454.5 1939.1,2443.3 1940.3,2430.3 1941.5,2416.8 1942.5,2404.5 1943.6,2389.8 1944.5,2374.3 1945.3,2358.1 1946.1,2341.5 1947.0,2324.8 1948.0,2308.1 1949.2,2290.2 1950.5,2271.9 1951.8,2253.4 1953.2,2234.9 1954.7,2216.3 1956.3,2197.9 1957.9,2178.9 1959.5,2159.2 1961.1,2139.4 1962.9,2120.4 1965.0,2102.9 1967.3,2087.7 1968.9,2079.7 1970.7,2072.8 1972.5,2066.4 1974.4,2060.2 1976.3,2053.7 1978.3,2046.4 1981.0,2035.9 1984.0,2024.6 1987.0,2012.9 1989.9,2000.9 1992.6,1989.0 1994.9,1977.5 1996.6,1965.6 1998.0,1952.2 1999.2,1938.7 2000.3,1927.1 2001.2,1918.9 2002.1,1915.8 2002.9,1918.7 2003.7,1926.3 2004.3,1937.4 2004.9,1950.6 2005.4,1964.4 2005.9,1977.5 2006.6,1997.9 2007.1,2021.2 2007.6,2046.1 2008.0,2071.0 2008.3,2094.6 2008.7,2115.3 2008.9,2129.2 2009.1,2144.0 2009.2,2158.1 2009.3,2170.0 2009.6,2178.3 2010.0,2181.4 2010.8,2174.9 2011.7,2158.0 2012.9,2134.4 2014.1,2107.7 2015.5,2081.7 2016.9,2060.2 2018.1,2044.1 2019.4,2026.4 2020.8,2009.3 2022.2,1994.6 2023.7,1984.2 2025.2,1980.3 2026.1,1981.3 2027.1,1984.2 2028.1,1988.4 2029.0,1993.6 2029.9,1999.3 2030.7,2005.1 2031.8,2019.2 2032.5,2037.1 2032.9,2057.1 2033.0,2077.9 2033.1,2097.8 2033.4,2115.3 2033.6,2128.3 2033.8,2142.4 2033.9,2156.0 2034.1,2167.6 2034.4,2175.7 2034.8,2178.7 2035.6,2172.3 2036.7,2155.5 2037.9,2132.1 2039.1,2105.9 2040.5,2080.7 2041.7,2060.2 2042.5,2047.1 2043.2,2033.6 2043.9,2020.7 2044.7,2009.2 2045.8,2000.0 2047.2,1994.1 2048.4,1991.7 2050.0,1990.7 2052.1,1991.2 2054.9,1992.9 2058.1,1995.5 2061.3,1998.5 2064.2,2001.9 2066.5,2005.1 2068.2,2008.6 2069.3,2012.3 2070.1,2016.3 2070.6,2020.6 2071.0,2025.3 2071.5,2030.3 2072.0,2039.5 2072.1,2050.1 2071.8,2061.6 2071.5,2073.5 2071.4,2085.1 2071.5,2096.0 2071.9,2106.4 2072.5,2118.0 2073.1,2129.5 2073.8,2139.4 2074.6,2146.4 2075.3,2149.0 2076.1,2146.2 2076.9,2138.8 2077.7,2128.5 2078.6,2116.8 2079.5,2105.4 2080.3,2096.0 2080.9,2088.9 2081.5,2081.1 2082.1,2073.5 2082.7,2066.9 2083.3,2062.3 2084.1,2060.6 2085.1,2062.3 2086.2,2067.0 2087.3,2073.6 2088.5,2081.3 2089.5,2089.1 2090.4,2096.0 2091.1,2102.9 2091.7,2109.9 2092.1,2117.0 2092.4,2124.3 2092.7,2131.6 2092.9,2138.9 2092.9,2147.1 2092.7,2155.7 2092.4,2164.4 2092.2,2172.8 2092.3,2180.5 2092.9,2186.9 2093.5,2190.0 2094.3,2192.6 2095.2,2195.1 2096.2,2197.4 2097.1,2199.7 2098.0,2202.1 2098.9,2204.5 2099.8,2206.9 2100.7,2209.2 2101.6,2211.7 2102.4,2214.3 2103.0,2217.2 2103.7,2222.0 2104.0,2227.1 2104.2,2232.6 2104.2,2238.6 2104.2,2245.3 2104.3,2252.6 2104.4,2269.1 2104.4,2288.8 2104.3,2310.6 2104.2,2333.6 2104.1,2356.7 2104.3,2378.9 2104.7,2404.5 2105.2,2434.2 2105.9,2463.9 2106.6,2490.0 2107.4,2508.5 2108.1,2515.5 2108.7,2511.1 2109.3,2499.4 2109.9,2482.9 2110.6,2464.1 2111.2,2445.4 2111.9,2429.4 2112.5,2416.3 2113.1,2403.2 2113.6,2390.2 2114.2,2377.5 2114.9,2365.3 2115.7,2353.6 2116.4,2344.6 2117.2,2335.9 2118.1,2327.5 2118.9,2319.4 2119.8,2311.2 2120.7,2303.1 2121.3,2295.0 2121.8,2286.5 2122.2,2278.0 2122.9,2270.1 2124.0,2263.1 2125.8,2257.6 2127.5,2255.0 2129.6,2253.2 2131.8,2251.6 2134.0,2249.9 2135.9,2247.5 2137.9,2242.8 2139.6,2236.7 2141.2,2230.0 2142.6,2223.6 2144.2,2218.2 2146.0,2214.7 2148.6,2212.5 2151.0,2212.2 2152.4,2214.8 2153.4,2220.1 2154.1,2226.7 2154.8,2233.2 2155.4,2238.1 2156.1,2240.0 2157.0,2238.1 2157.8,2233.0 2158.6,2225.8 2159.4,2217.6 2160.2,2209.4 2161.1,2202.1 2162.1,2194.5 2163.2,2185.7 2164.3,2176.9 2165.4,2169.2 2166.5,2163.8 2167.5,2161.7 2168.8,2167.3 2170.1,2181.4 2171.3,2199.6 2172.6,2217.8 2173.8,2231.8 2175.0,2237.4 2175.9,2234.0 2176.5,2225.2 2177.2,2213.3 2178.1,2200.6 2179.4,2189.4 2181.3,2181.9 2183.1,2178.8 2185.1,2176.2 2187.1,2174.6 2188.9,2174.3 2190.9,2178.8 2192.5,2188.7 2193.7,2201.4 2194.6,2213.9 2195.5,2223.5 2196.5,2227.3 2197.4,2224.0 2198.2,2215.7 2198.9,2204.3 2199.6,2191.8 2200.5,2180.3 2201.6,2171.8 2202.4,2168.3 2203.2,2164.8 2204.1,2161.6 2205.0,2159.0 2205.9,2157.2 2206.6,2156.6 2207.6,2158.8 2208.4,2164.4 2209.0,2172.6 2209.5,2182.2 2209.9,2192.4 2210.4,2202.1 2211.0,2219.7 2211.4,2242.0 2211.7,2265.6 2212.0,2286.9 2212.4,2302.3 2212.9,2308.2 2213.6,2303.0 2214.3,2289.6 2215.1,2270.9 2216.0,2250.1 2217.0,2230.4 2218.0,2214.7 2218.8,2205.6 2219.6,2196.0 2220.5,2186.8 2221.4,2179.1 2222.2,2173.8 2223.0,2171.8 2223.7,2174.8 2224.3,2182.3 2224.9,2192.0 2225.4,2201.7 2226.1,2209.2 2226.8,2212.2 2227.7,2208.5 2228.6,2199.1 2229.6,2187.0 2230.7,2174.8 2231.8,2165.5 2233.1,2161.7 2234.4,2164.2 2235.7,2170.9 2237.2,2180.1 2238.7,2190.2 2240.3,2199.7 2242.0,2207.1 2243.2,2211.0 2244.4,2215.0 2245.7,2218.8 2247.0,2221.9 2248.3,2224.0 2249.5,2224.8 2250.8,2223.7 2252.2,2220.9 2253.5,2216.9 2254.7,2212.0 2256.0,2207.0 2257.1,2202.1 2258.6,2194.8 2259.9,2186.5 2261.1,2177.7 2262.2,2168.6 2263.4,2159.8 2264.7,2151.6 2265.8,2144.9 2267.0,2138.4 2268.1,2132.1 2269.3,2125.9 2270.7,2119.7 2272.3,2113.7 2274.2,2107.2 2276.3,2100.0 2278.6,2092.8 2280.9,2086.6 2283.1,2082.3 2284.9,2080.8 2286.7,2085.5 2288.1,2096.7 2289.1,2111.3 2290.1,2125.8 2291.2,2136.9 2292.5,2141.4 2293.9,2137.6 2295.4,2127.9 2297.0,2115.2 2298.7,2102.5 2300.5,2092.6 2302.6,2088.4 2304.1,2089.0 2305.6,2091.0 2307.3,2094.0 2308.8,2097.5 2310.2,2101.0 2311.9,2107.6 2313.3,2116.5 2314.4,2126.2 2315.5,2135.1 2316.6,2141.5 2317.7,2144.0 2319.1,2139.9 2320.4,2129.6 2321.7,2116.2 2323.0,2102.8 2324.2,2092.5 2325.3,2088.4 2326.3,2091.5 2327.1,2099.5 2327.9,2111.1 2328.6,2124.7 2329.4,2138.7 2330.4,2151.6 2331.9,2170.1 2333.6,2192.8 2335.4,2216.2 2337.3,2237.0 2339.0,2251.9 2340.5,2257.6 2341.8,2252.2 2342.9,2237.9 2344.0,2217.8 2345.0,2194.8 2346.0,2171.7 2347.0,2151.6" fill="none" stroke="#c07381" stroke-width="3.6" stroke-linejoin="round" stroke-linecap="round" />
<polyline points="204.8,1665.2 214.4,1665.1 224.2,1665.2 234.1,1665.2 243.7,1665.1 252.6,1664.9 260.6,1664.4 265.3,1663.8 269.5,1663.1 273.5,1662.2 277.4,1661.4 281.2,1660.7 285.2,1660.3 289.3,1660.2 293.3,1660.2 297.3,1660.4 301.3,1660.7 305.5,1661.0 309.8,1661.1 315.1,1661.2 320.8,1661.3 326.6,1661.4 332.3,1661.4 337.6,1661.3 342.5,1661.1 345.6,1660.8 348.4,1660.5 351.1,1660.0 353.7,1659.6 356.3,1659.1 359.0,1658.7 361.8,1658.3 364.7,1658.0 367.5,1657.7 370.3,1657.3 372.9,1656.8 375.3,1656.2 377.5,1655.2 379.3,1654.0 381.2,1652.9 383.5,1652.1 386.3,1651.7 389.4,1651.4 392.8,1651.4 396.3,1651.7 399.8,1652.2 403.2,1653.0 406.9,1654.3 410.8,1656.2 414.6,1658.3 418.3,1660.6 421.6,1663.0 424.5,1665.2 426.5,1667.0 428.2,1668.9 429.6,1670.8 431.1,1672.6 432.7,1674.3 434.7,1676.1 436.8,1677.7 438.9,1679.2 441.0,1680.8" fill="none" stroke="#d47e1c" stroke-width="6" stroke-linejoin="round" stroke-linecap="round" />
<polyline points="204.8,1665.2 214.4,1665.1 224.2,1665.2 234.1,1665.2 243.7,1665.1 252.6,1664.9 260.6,1664.4 265.3,1663.8 269.5,1663.1 273.5,1662.2 277.4,1661.4 281.2,1660.7 285.2,1660.3 289.3,1660.2 293.3,1660.2 297.3,1660.4 301.3,1660.7 305.5,1661.0 309.8,1661.1 315.1,1661.2 320.8,1661.3 326.6,1661.4 332.3,1661.4 337.6,1661.3 342.5,1661.1 345.6,1660.8 348.4,1660.5 351.1,1660.0 353.7,1659.6 356.3,1659.1 359.0,1658.7 361.8,1658.3 364.7,1658.0 367.5,1657.7 370.3,1657.3 372.9,1656.8 375.3,1656.2 377.5,1655.2 379.3,1654.0 381.2,1652.9 383.5,1652.1 386.3,1651.7 389.4,1651.4 392.8,1651.4 396.3,1651.7 399.8,1652.2 403.2,1653.0 406.9,1654.3 410.8,1656.2 414.6,1658.3 418.3,1660.6 421.6,1663.0 424.5,1665.2 426.5,1667.0 428.2,1668.9 429.6,1670.8 431.1,1672.6 432.7,1674.3 434.7,1676.1 436.8,1677.7 438.9,1679.2 441.0,1680.8" fill="none" stroke="#1a1208" stroke-width="5" stroke-linejoin="round" stroke-linecap="round" stroke-dasharray="7 19" stroke-dashoffset="4"/>
<rect x="198.4" y="1563.3" width="2149.6" height="1249.8999999999999" fill="none" stroke="#8d8d8d" stroke-width="4.2"/>
<line x1="177.5" y1="1749.5" x2="198.4" y2="1749.5" stroke="#8d8d8d" stroke-width="4.2" stroke-linecap="butt"/>
<text transform="translate(147.8,1749.5) rotate(-90)" font-size="41.5" font-weight="normal" fill="#4a4a4a" text-anchor="middle" textLength="45.0" lengthAdjust="spacingAndGlyphs" stroke="#4a4a4a" stroke-width="0.8">90</text>
<line x1="177.5" y1="1949.0" x2="198.4" y2="1949.0" stroke="#8d8d8d" stroke-width="4.2" stroke-linecap="butt"/>
<text transform="translate(147.8,1949.0) rotate(-90)" font-size="41.5" font-weight="normal" fill="#4a4a4a" text-anchor="middle" textLength="45.0" lengthAdjust="spacingAndGlyphs" stroke="#4a4a4a" stroke-width="0.8">80</text>
<line x1="177.5" y1="2148.5" x2="198.4" y2="2148.5" stroke="#8d8d8d" stroke-width="4.2" stroke-linecap="butt"/>
<text transform="translate(147.8,2148.5) rotate(-90)" font-size="41.5" font-weight="normal" fill="#4a4a4a" text-anchor="middle" textLength="45.0" lengthAdjust="spacingAndGlyphs" stroke="#4a4a4a" stroke-width="0.8">70</text>
<line x1="177.5" y1="2348.0" x2="198.4" y2="2348.0" stroke="#8d8d8d" stroke-width="4.2" stroke-linecap="butt"/>
<text transform="translate(147.8,2348.0) rotate(-90)" font-size="41.5" font-weight="normal" fill="#4a4a4a" text-anchor="middle" textLength="45.0" lengthAdjust="spacingAndGlyphs" stroke="#4a4a4a" stroke-width="0.8">60</text>
<line x1="489.4" y1="2813.2" x2="489.4" y2="2833.0" stroke="#8d8d8d" stroke-width="4.2" stroke-linecap="butt"/>
<text x="489.4" y="2889.6" font-size="40.5" font-weight="normal" fill="#4a4a4a" text-anchor="middle" textLength="84.0" lengthAdjust="spacingAndGlyphs" stroke="#4a4a4a" stroke-width="0.8">3500</text>
<line x1="784.7" y1="2813.2" x2="784.7" y2="2833.0" stroke="#8d8d8d" stroke-width="4.2" stroke-linecap="butt"/>
<text x="784.7" y="2889.6" font-size="40.5" font-weight="normal" fill="#4a4a4a" text-anchor="middle" textLength="84.0" lengthAdjust="spacingAndGlyphs" stroke="#4a4a4a" stroke-width="0.8">3000</text>
<line x1="1080.0" y1="2813.2" x2="1080.0" y2="2833.0" stroke="#8d8d8d" stroke-width="4.2" stroke-linecap="butt"/>
<text x="1080.0" y="2889.6" font-size="40.5" font-weight="normal" fill="#4a4a4a" text-anchor="middle" textLength="84.0" lengthAdjust="spacingAndGlyphs" stroke="#4a4a4a" stroke-width="0.8">2500</text>
<line x1="1375.3" y1="2813.2" x2="1375.3" y2="2833.0" stroke="#8d8d8d" stroke-width="4.2" stroke-linecap="butt"/>
<text x="1375.3" y="2889.6" font-size="40.5" font-weight="normal" fill="#4a4a4a" text-anchor="middle" textLength="84.0" lengthAdjust="spacingAndGlyphs" stroke="#4a4a4a" stroke-width="0.8">2000</text>
<line x1="1670.6" y1="2813.2" x2="1670.6" y2="2833.0" stroke="#8d8d8d" stroke-width="4.2" stroke-linecap="butt"/>
<text x="1670.6" y="2889.6" font-size="40.5" font-weight="normal" fill="#4a4a4a" text-anchor="middle" textLength="84.0" lengthAdjust="spacingAndGlyphs" stroke="#4a4a4a" stroke-width="0.8">1500</text>
<line x1="1965.9" y1="2813.2" x2="1965.9" y2="2833.0" stroke="#8d8d8d" stroke-width="4.2" stroke-linecap="butt"/>
<text x="1965.9" y="2889.6" font-size="40.5" font-weight="normal" fill="#4a4a4a" text-anchor="middle" textLength="84.0" lengthAdjust="spacingAndGlyphs" stroke="#4a4a4a" stroke-width="0.8">1000</text>
<line x1="2261.2" y1="2813.2" x2="2261.2" y2="2833.0" stroke="#8d8d8d" stroke-width="4.2" stroke-linecap="butt"/>
<text x="2261.2" y="2889.6" font-size="40.5" font-weight="normal" fill="#4a4a4a" text-anchor="middle" textLength="62.5" lengthAdjust="spacingAndGlyphs" stroke="#4a4a4a" stroke-width="0.8">500</text>
<text x="1007.0" y="2986.0" font-size="60" font-weight="bold" fill="#111" text-anchor="start" textLength="369.0" lengthAdjust="spacingAndGlyphs" >Wavenumber</text>
<text x="1387.5" y="2986.0" font-size="60" font-weight="bold" fill="#111" text-anchor="start" textLength="200.0" lengthAdjust="spacingAndGlyphs" >(cm&#8722;1)</text>
<text transform="translate(81.7,2390.0) rotate(-90)" font-size="60" font-weight="bold" fill="#111" text-anchor="start" textLength="405.0" lengthAdjust="spacingAndGlyphs" >Transmittance</text>
<text transform="translate(81.7,1973.5) rotate(-90)" font-size="60" font-weight="bold" fill="#111" text-anchor="start" textLength="76.0" lengthAdjust="spacingAndGlyphs" >(%)</text>
<text x="287.2" y="2479.7" font-size="71" font-weight="normal" fill="#1e1e1e" text-anchor="start" textLength="539.0" lengthAdjust="spacingAndGlyphs" >MSNTRPELG (blue)</text>
<text x="287.2" y="2565.8" font-size="71" font-weight="normal" fill="#1e1e1e" text-anchor="start" textLength="262.0" lengthAdjust="spacingAndGlyphs" >ELG (red)</text>
<line x1="457.2" y1="2606.0" x2="457.2" y2="2675.5" stroke="#9090c8" stroke-width="3.6" stroke-linecap="butt"/>
<text transform="translate(467.7,2802.0) rotate(-90)" font-size="33" font-weight="normal" fill="#4a4a4a" text-anchor="start" textLength="108.5" lengthAdjust="spacingAndGlyphs" stroke="#4a4a4a" stroke-width="0.9">3556.94</text>
<line x1="739.3" y1="2606.0" x2="739.3" y2="2675.5" stroke="#9090c8" stroke-width="3.6" stroke-linecap="butt"/>
<text transform="translate(749.8,2802.0) rotate(-90)" font-size="33" font-weight="normal" fill="#4a4a4a" text-anchor="start" textLength="108.5" lengthAdjust="spacingAndGlyphs" stroke="#4a4a4a" stroke-width="0.9">3075.84</text>
<line x1="1552.5" y1="2583.5" x2="1552.5" y2="2675.5" stroke="#9090c8" stroke-width="3.6" stroke-linecap="butt"/>
<text transform="translate(1563.0,2802.0) rotate(-90)" font-size="33" font-weight="normal" fill="#4a4a4a" text-anchor="start" textLength="108.5" lengthAdjust="spacingAndGlyphs" stroke="#4a4a4a" stroke-width="0.9">1698.52</text>
<line x1="1597.5" y1="2585.5" x2="1597.5" y2="2675.5" stroke="#9090c8" stroke-width="3.6" stroke-linecap="butt"/>
<text transform="translate(1608.0,2802.0) rotate(-90)" font-size="33" font-weight="normal" fill="#4a4a4a" text-anchor="start" textLength="108.5" lengthAdjust="spacingAndGlyphs" stroke="#4a4a4a" stroke-width="0.9">1620.46</text>
<line x1="1764.8" y1="2583.5" x2="1764.8" y2="2675.5" stroke="#9090c8" stroke-width="3.6" stroke-linecap="butt"/>
<text transform="translate(1775.3,2802.0) rotate(-90)" font-size="33" font-weight="normal" fill="#4a4a4a" text-anchor="start" textLength="108.5" lengthAdjust="spacingAndGlyphs" stroke="#4a4a4a" stroke-width="0.9">1337.93</text>
<line x1="1934.0" y1="2584.0" x2="1934.0" y2="2675.5" stroke="#9090c8" stroke-width="3.6" stroke-linecap="butt"/>
<text transform="translate(1944.5,2802.0) rotate(-90)" font-size="33" font-weight="normal" fill="#4a4a4a" text-anchor="start" textLength="108.5" lengthAdjust="spacingAndGlyphs" stroke="#4a4a4a" stroke-width="0.9">1053.70</text>
<line x1="2010.0" y1="2584.0" x2="2010.0" y2="2675.5" stroke="#9090c8" stroke-width="3.6" stroke-linecap="butt"/>
<text transform="translate(2020.5,2802.0) rotate(-90)" font-size="33" font-weight="normal" fill="#4a4a4a" text-anchor="start" textLength="92.0" lengthAdjust="spacingAndGlyphs" stroke="#4a4a4a" stroke-width="0.9">922.31</text>
<line x1="2107.5" y1="2583.5" x2="2107.5" y2="2675.5" stroke="#9090c8" stroke-width="3.6" stroke-linecap="butt"/>
<text transform="translate(2118.0,2802.0) rotate(-90)" font-size="33" font-weight="normal" fill="#4a4a4a" text-anchor="start" textLength="92.0" lengthAdjust="spacingAndGlyphs" stroke="#4a4a4a" stroke-width="0.9">756.21</text>
</svg>
</div></body></html>
